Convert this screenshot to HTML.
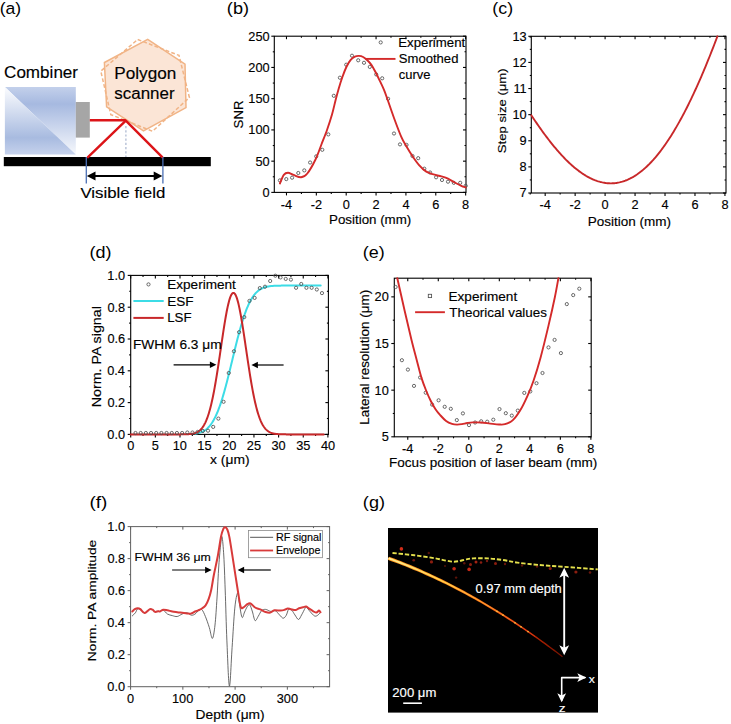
<!DOCTYPE html>
<html><head><meta charset="utf-8"><style>
html,body{margin:0;padding:0;background:#fff;overflow:hidden;width:731px;height:724px;}
svg{display:block;font-family:"Liberation Sans", sans-serif;}
text{stroke:currentColor;stroke-width:0.15px;}
</style></head><body>
<svg width="731" height="724" viewBox="0 0 731 724">
<rect width="731" height="724" fill="#fff"/>
<text x="-0.30" y="13.92" font-size="17.2" fill="#000" color="#000" textLength="21.44" lengthAdjust="spacingAndGlyphs" style="stroke-width:0">(a)</text>
<defs>
<linearGradient id="gU" x1="0" y1="0" x2="0" y2="1"><stop offset="0" stop-color="#c3d0eb"/><stop offset="0.25" stop-color="#a6b9e0"/><stop offset="1" stop-color="#f6f8fc"/></linearGradient>
<linearGradient id="gL" x1="0" y1="0" x2="0" y2="1"><stop offset="0" stop-color="#fbfcfe"/><stop offset="0.75" stop-color="#a8bbe0"/><stop offset="1" stop-color="#c6d2ec"/></linearGradient>
</defs>
<polygon points="4.9,87.1 75.8,87.1 75.8,154.6" fill="url(#gU)"/>
<polygon points="4.9,87.1 4.9,154.6 75.8,154.6" fill="url(#gL)"/>
<rect x="75.8" y="102" width="14" height="35.6" fill="#a6a6a6"/>
<polygon points="147.70,39.30 185.00,64.20 186.00,107.60 143.50,130.90 106.60,106.90 104.40,62.50" fill="#fbe5d6" stroke="#f1b486" stroke-width="1.5"/>
<polygon points="137.70,39.50 179.00,55.40 189.40,97.50 152.50,131.30 110.80,114.60 100.80,71.10" fill="none" stroke="#f1b486" stroke-width="1.5" stroke-dasharray="3.8 2.2"/>
<text x="114.28" y="79.40" font-size="16.2" fill="#000" color="#000" textLength="62.01" lengthAdjust="spacingAndGlyphs">Polygon</text>
<text x="114.33" y="99.30" font-size="16.0" fill="#000" color="#000" textLength="60.22" lengthAdjust="spacingAndGlyphs">scanner</text>
<text x="4.05" y="77.60" font-size="16.5" fill="#000" color="#000" textLength="74.01" lengthAdjust="spacingAndGlyphs">Combiner</text>
<rect x="3.8" y="157" width="207" height="9.2" fill="#000"/>
<line x1="89.80" y1="120.20" x2="125.80" y2="120.20" stroke="#dc1418" stroke-width="2.4"/>
<polyline points="88.00,157.20 125.80,120.60 162.20,157.20" fill="none" stroke="#dc1418" stroke-width="2.4" stroke-linejoin="round" stroke-linecap="round" stroke-linecap="butt"/>
<line x1="125.90" y1="126.00" x2="125.90" y2="157.00" stroke="#a9b6cf" stroke-width="1.2" stroke-dasharray="2.2 2"/>
<line x1="86.30" y1="157.00" x2="86.30" y2="183.40" stroke="#4a6fb5" stroke-width="1.3"/>
<line x1="162.90" y1="157.00" x2="162.90" y2="183.40" stroke="#4a6fb5" stroke-width="1.3"/>
<line x1="93.00" y1="176.00" x2="156.00" y2="176.00" stroke="#000" stroke-width="2"/>
<polygon points="86.8,176 95.5,171.6 95.5,180.4" fill="#000"/>
<polygon points="162.4,176 153.7,171.6 153.7,180.4" fill="#000"/>
<text x="80.42" y="197.70" font-size="15.4" fill="#000" color="#000" textLength="84.94" lengthAdjust="spacingAndGlyphs">Visible field</text>
<text x="226.87" y="13.92" font-size="17.2" fill="#000" color="#000" textLength="22.11" lengthAdjust="spacingAndGlyphs" style="stroke-width:0">(b)</text>
<rect x="274.3" y="36.2" width="191.70" height="156.20" fill="none" stroke="#000" stroke-width="1.1"/>
<line x1="286.48" y1="192.40" x2="286.48" y2="195.40" stroke="#000" stroke-width="1.1"/>
<line x1="286.48" y1="36.20" x2="286.48" y2="39.20" stroke="#000" stroke-width="1.1"/>
<line x1="316.34" y1="192.40" x2="316.34" y2="195.40" stroke="#000" stroke-width="1.1"/>
<line x1="316.34" y1="36.20" x2="316.34" y2="39.20" stroke="#000" stroke-width="1.1"/>
<line x1="346.20" y1="192.40" x2="346.20" y2="195.40" stroke="#000" stroke-width="1.1"/>
<line x1="346.20" y1="36.20" x2="346.20" y2="39.20" stroke="#000" stroke-width="1.1"/>
<line x1="376.06" y1="192.40" x2="376.06" y2="195.40" stroke="#000" stroke-width="1.1"/>
<line x1="376.06" y1="36.20" x2="376.06" y2="39.20" stroke="#000" stroke-width="1.1"/>
<line x1="405.92" y1="192.40" x2="405.92" y2="195.40" stroke="#000" stroke-width="1.1"/>
<line x1="405.92" y1="36.20" x2="405.92" y2="39.20" stroke="#000" stroke-width="1.1"/>
<line x1="435.78" y1="192.40" x2="435.78" y2="195.40" stroke="#000" stroke-width="1.1"/>
<line x1="435.78" y1="36.20" x2="435.78" y2="39.20" stroke="#000" stroke-width="1.1"/>
<line x1="465.64" y1="192.40" x2="465.64" y2="195.40" stroke="#000" stroke-width="1.1"/>
<line x1="465.64" y1="36.20" x2="465.64" y2="39.20" stroke="#000" stroke-width="1.1"/>
<line x1="301.41" y1="192.40" x2="301.41" y2="193.90" stroke="#000" stroke-width="1.1"/>
<line x1="301.41" y1="36.20" x2="301.41" y2="37.70" stroke="#000" stroke-width="1.1"/>
<line x1="331.27" y1="192.40" x2="331.27" y2="193.90" stroke="#000" stroke-width="1.1"/>
<line x1="331.27" y1="36.20" x2="331.27" y2="37.70" stroke="#000" stroke-width="1.1"/>
<line x1="361.13" y1="192.40" x2="361.13" y2="193.90" stroke="#000" stroke-width="1.1"/>
<line x1="361.13" y1="36.20" x2="361.13" y2="37.70" stroke="#000" stroke-width="1.1"/>
<line x1="390.99" y1="192.40" x2="390.99" y2="193.90" stroke="#000" stroke-width="1.1"/>
<line x1="390.99" y1="36.20" x2="390.99" y2="37.70" stroke="#000" stroke-width="1.1"/>
<line x1="420.85" y1="192.40" x2="420.85" y2="193.90" stroke="#000" stroke-width="1.1"/>
<line x1="420.85" y1="36.20" x2="420.85" y2="37.70" stroke="#000" stroke-width="1.1"/>
<line x1="450.71" y1="192.40" x2="450.71" y2="193.90" stroke="#000" stroke-width="1.1"/>
<line x1="450.71" y1="36.20" x2="450.71" y2="37.70" stroke="#000" stroke-width="1.1"/>
<line x1="271.30" y1="192.40" x2="274.30" y2="192.40" stroke="#000" stroke-width="1.1"/>
<line x1="463.00" y1="192.40" x2="466.00" y2="192.40" stroke="#000" stroke-width="1.1"/>
<line x1="271.30" y1="161.16" x2="274.30" y2="161.16" stroke="#000" stroke-width="1.1"/>
<line x1="463.00" y1="161.16" x2="466.00" y2="161.16" stroke="#000" stroke-width="1.1"/>
<line x1="271.30" y1="129.92" x2="274.30" y2="129.92" stroke="#000" stroke-width="1.1"/>
<line x1="463.00" y1="129.92" x2="466.00" y2="129.92" stroke="#000" stroke-width="1.1"/>
<line x1="271.30" y1="98.68" x2="274.30" y2="98.68" stroke="#000" stroke-width="1.1"/>
<line x1="463.00" y1="98.68" x2="466.00" y2="98.68" stroke="#000" stroke-width="1.1"/>
<line x1="271.30" y1="67.44" x2="274.30" y2="67.44" stroke="#000" stroke-width="1.1"/>
<line x1="463.00" y1="67.44" x2="466.00" y2="67.44" stroke="#000" stroke-width="1.1"/>
<line x1="271.30" y1="36.20" x2="274.30" y2="36.20" stroke="#000" stroke-width="1.1"/>
<line x1="463.00" y1="36.20" x2="466.00" y2="36.20" stroke="#000" stroke-width="1.1"/>
<line x1="272.80" y1="176.78" x2="274.30" y2="176.78" stroke="#000" stroke-width="1.1"/>
<line x1="464.50" y1="176.78" x2="466.00" y2="176.78" stroke="#000" stroke-width="1.1"/>
<line x1="272.80" y1="145.54" x2="274.30" y2="145.54" stroke="#000" stroke-width="1.1"/>
<line x1="464.50" y1="145.54" x2="466.00" y2="145.54" stroke="#000" stroke-width="1.1"/>
<line x1="272.80" y1="114.30" x2="274.30" y2="114.30" stroke="#000" stroke-width="1.1"/>
<line x1="464.50" y1="114.30" x2="466.00" y2="114.30" stroke="#000" stroke-width="1.1"/>
<line x1="272.80" y1="83.06" x2="274.30" y2="83.06" stroke="#000" stroke-width="1.1"/>
<line x1="464.50" y1="83.06" x2="466.00" y2="83.06" stroke="#000" stroke-width="1.1"/>
<line x1="272.80" y1="51.82" x2="274.30" y2="51.82" stroke="#000" stroke-width="1.1"/>
<line x1="464.50" y1="51.82" x2="466.00" y2="51.82" stroke="#000" stroke-width="1.1"/>
<text x="262.49" y="196.80" font-size="13.3" fill="#000" color="#000" textLength="7.10" lengthAdjust="spacingAndGlyphs">0</text>
<text x="255.41" y="165.56" font-size="13.3" fill="#000" color="#000" textLength="14.20" lengthAdjust="spacingAndGlyphs">50</text>
<text x="248.29" y="134.32" font-size="13.3" fill="#000" color="#000" textLength="21.30" lengthAdjust="spacingAndGlyphs">100</text>
<text x="248.29" y="103.08" font-size="13.3" fill="#000" color="#000" textLength="21.30" lengthAdjust="spacingAndGlyphs">150</text>
<text x="248.29" y="71.84" font-size="13.3" fill="#000" color="#000" textLength="21.30" lengthAdjust="spacingAndGlyphs">200</text>
<text x="248.29" y="40.60" font-size="13.3" fill="#000" color="#000" textLength="21.30" lengthAdjust="spacingAndGlyphs">250</text>
<text x="280.70" y="208.50" font-size="13.3" fill="#000" color="#000" textLength="11.35" lengthAdjust="spacingAndGlyphs">-4</text>
<text x="310.69" y="208.50" font-size="13.3" fill="#000" color="#000" textLength="11.35" lengthAdjust="spacingAndGlyphs">-2</text>
<text x="342.66" y="208.50" font-size="13.3" fill="#000" color="#000" textLength="7.10" lengthAdjust="spacingAndGlyphs">0</text>
<text x="372.50" y="208.50" font-size="13.3" fill="#000" color="#000" textLength="7.10" lengthAdjust="spacingAndGlyphs">2</text>
<text x="402.41" y="208.50" font-size="13.3" fill="#000" color="#000" textLength="7.10" lengthAdjust="spacingAndGlyphs">4</text>
<text x="432.19" y="208.50" font-size="13.3" fill="#000" color="#000" textLength="7.10" lengthAdjust="spacingAndGlyphs">6</text>
<text x="462.10" y="208.50" font-size="13.3" fill="#000" color="#000" textLength="7.10" lengthAdjust="spacingAndGlyphs">8</text>
<text x="0" y="0" font-size="13.2" fill="#000" color="#000" textLength="27.80" lengthAdjust="spacingAndGlyphs" transform="translate(243.30 128.39) scale(1.0 1) rotate(-90)">SNR</text>
<text x="329.00" y="223.80" font-size="12.6" fill="#000" color="#000" textLength="82.30" lengthAdjust="spacingAndGlyphs">Position (mm)</text>
<circle cx="279.90" cy="180.40" r="1.6" fill="none" stroke="#505050" stroke-width="0.85"/>
<circle cx="286.30" cy="179.10" r="1.6" fill="none" stroke="#505050" stroke-width="0.85"/>
<circle cx="292.10" cy="177.70" r="1.6" fill="none" stroke="#505050" stroke-width="0.85"/>
<circle cx="298.30" cy="173.00" r="1.6" fill="none" stroke="#505050" stroke-width="0.85"/>
<circle cx="304.30" cy="170.40" r="1.6" fill="none" stroke="#505050" stroke-width="0.85"/>
<circle cx="310.10" cy="162.50" r="1.6" fill="none" stroke="#505050" stroke-width="0.85"/>
<circle cx="316.20" cy="156.40" r="1.6" fill="none" stroke="#505050" stroke-width="0.85"/>
<circle cx="322.30" cy="149.80" r="1.6" fill="none" stroke="#505050" stroke-width="0.85"/>
<circle cx="328.30" cy="134.40" r="1.6" fill="none" stroke="#505050" stroke-width="0.85"/>
<circle cx="333.80" cy="95.80" r="1.6" fill="none" stroke="#505050" stroke-width="0.85"/>
<circle cx="339.90" cy="77.70" r="1.6" fill="none" stroke="#505050" stroke-width="0.85"/>
<circle cx="346.20" cy="64.70" r="1.6" fill="none" stroke="#505050" stroke-width="0.85"/>
<circle cx="352.00" cy="55.70" r="1.6" fill="none" stroke="#505050" stroke-width="0.85"/>
<circle cx="358.20" cy="60.30" r="1.6" fill="none" stroke="#505050" stroke-width="0.85"/>
<circle cx="364.00" cy="62.80" r="1.6" fill="none" stroke="#505050" stroke-width="0.85"/>
<circle cx="369.80" cy="66.90" r="1.6" fill="none" stroke="#505050" stroke-width="0.85"/>
<circle cx="376.20" cy="74.40" r="1.6" fill="none" stroke="#505050" stroke-width="0.85"/>
<circle cx="382.20" cy="78.30" r="1.6" fill="none" stroke="#505050" stroke-width="0.85"/>
<circle cx="388.10" cy="98.80" r="1.6" fill="none" stroke="#505050" stroke-width="0.85"/>
<circle cx="394.00" cy="133.50" r="1.6" fill="none" stroke="#505050" stroke-width="0.85"/>
<circle cx="400.00" cy="144.40" r="1.6" fill="none" stroke="#505050" stroke-width="0.85"/>
<circle cx="406.50" cy="144.90" r="1.6" fill="none" stroke="#505050" stroke-width="0.85"/>
<circle cx="412.50" cy="156.00" r="1.6" fill="none" stroke="#505050" stroke-width="0.85"/>
<circle cx="418.20" cy="158.20" r="1.6" fill="none" stroke="#505050" stroke-width="0.85"/>
<circle cx="424.30" cy="168.70" r="1.6" fill="none" stroke="#505050" stroke-width="0.85"/>
<circle cx="430.10" cy="172.50" r="1.6" fill="none" stroke="#505050" stroke-width="0.85"/>
<circle cx="436.10" cy="177.30" r="1.6" fill="none" stroke="#505050" stroke-width="0.85"/>
<circle cx="442.00" cy="180.00" r="1.6" fill="none" stroke="#505050" stroke-width="0.85"/>
<circle cx="448.00" cy="181.70" r="1.6" fill="none" stroke="#505050" stroke-width="0.85"/>
<circle cx="453.80" cy="182.80" r="1.6" fill="none" stroke="#505050" stroke-width="0.85"/>
<circle cx="460.20" cy="182.80" r="1.6" fill="none" stroke="#505050" stroke-width="0.85"/>
<circle cx="465.70" cy="185.80" r="1.6" fill="none" stroke="#505050" stroke-width="0.85"/>
<path d="M279.90,183.50 C280.55,182.07 282.45,176.68 283.80,174.90 C285.15,173.12 286.38,172.80 288.00,172.80 C289.62,172.80 291.32,174.15 293.50,174.90 C295.68,175.65 298.80,177.53 301.10,177.30 C303.40,177.07 304.90,176.47 307.30,173.50 C309.70,170.53 313.12,164.42 315.50,159.50 C317.88,154.58 319.67,148.97 321.60,144.00 C323.53,139.03 325.37,134.62 327.10,129.70 C328.83,124.78 330.60,119.37 332.00,114.50 C333.40,109.63 334.40,104.75 335.50,100.50 C336.60,96.25 337.45,92.92 338.60,89.00 C339.75,85.08 341.07,80.75 342.40,77.00 C343.73,73.25 345.22,69.35 346.60,66.50 C347.98,63.65 349.32,61.55 350.70,59.90 C352.08,58.25 353.52,57.27 354.90,56.60 C356.28,55.93 357.63,55.83 359.00,55.90 C360.37,55.97 361.72,56.27 363.10,57.00 C364.48,57.73 365.92,58.98 367.30,60.30 C368.68,61.62 370.02,62.90 371.40,64.90 C372.78,66.90 374.22,69.68 375.60,72.30 C376.98,74.92 378.32,77.70 379.70,80.60 C381.08,83.50 382.65,86.72 383.90,89.70 C385.15,92.68 385.52,93.78 387.20,98.50 C388.88,103.22 391.65,111.60 394.00,118.00 C396.35,124.40 399.22,132.15 401.30,136.90 C403.38,141.65 404.60,143.23 406.50,146.50 C408.40,149.77 410.57,153.35 412.70,156.50 C414.83,159.65 417.10,162.92 419.30,165.40 C421.50,167.88 423.68,169.93 425.90,171.40 C428.12,172.87 430.02,173.37 432.60,174.20 C435.18,175.03 438.83,175.67 441.40,176.40 C443.97,177.13 445.78,177.58 448.00,178.60 C450.22,179.62 452.48,181.30 454.70,182.50 C456.92,183.70 459.47,184.97 461.30,185.80 C463.13,186.63 464.97,187.22 465.70,187.50" fill="none" stroke="#d42a2a" stroke-width="1.9" stroke-linejoin="round" stroke-linecap="round"/>
<circle cx="380.70" cy="42.40" r="1.6" fill="none" stroke="#505050" stroke-width="0.85"/>
<text x="398.31" y="47.00" font-size="12.6" fill="#000" color="#000" textLength="66.89" lengthAdjust="spacingAndGlyphs">Experiment</text>
<line x1="365.50" y1="58.90" x2="395.50" y2="58.90" stroke="#d42a2a" stroke-width="1.9"/>
<text x="398.81" y="62.80" font-size="12.6" fill="#000" color="#000" textLength="59.62" lengthAdjust="spacingAndGlyphs">Smoothed</text>
<text x="398.75" y="79.10" font-size="12.6" fill="#000" color="#000" textLength="31.71" lengthAdjust="spacingAndGlyphs">curve</text>
<text x="492.39" y="13.92" font-size="17.2" fill="#000" color="#000" textLength="20.69" lengthAdjust="spacingAndGlyphs" style="stroke-width:0">(c)</text>
<rect x="531.3" y="36.3" width="194.70" height="156.70" fill="none" stroke="#000" stroke-width="1.1"/>
<line x1="545.18" y1="193.00" x2="545.18" y2="196.00" stroke="#000" stroke-width="1.1"/>
<line x1="545.18" y1="36.30" x2="545.18" y2="39.30" stroke="#000" stroke-width="1.1"/>
<line x1="575.14" y1="193.00" x2="575.14" y2="196.00" stroke="#000" stroke-width="1.1"/>
<line x1="575.14" y1="36.30" x2="575.14" y2="39.30" stroke="#000" stroke-width="1.1"/>
<line x1="605.10" y1="193.00" x2="605.10" y2="196.00" stroke="#000" stroke-width="1.1"/>
<line x1="605.10" y1="36.30" x2="605.10" y2="39.30" stroke="#000" stroke-width="1.1"/>
<line x1="635.06" y1="193.00" x2="635.06" y2="196.00" stroke="#000" stroke-width="1.1"/>
<line x1="635.06" y1="36.30" x2="635.06" y2="39.30" stroke="#000" stroke-width="1.1"/>
<line x1="665.02" y1="193.00" x2="665.02" y2="196.00" stroke="#000" stroke-width="1.1"/>
<line x1="665.02" y1="36.30" x2="665.02" y2="39.30" stroke="#000" stroke-width="1.1"/>
<line x1="694.98" y1="193.00" x2="694.98" y2="196.00" stroke="#000" stroke-width="1.1"/>
<line x1="694.98" y1="36.30" x2="694.98" y2="39.30" stroke="#000" stroke-width="1.1"/>
<line x1="724.94" y1="193.00" x2="724.94" y2="196.00" stroke="#000" stroke-width="1.1"/>
<line x1="724.94" y1="36.30" x2="724.94" y2="39.30" stroke="#000" stroke-width="1.1"/>
<line x1="530.20" y1="193.00" x2="530.20" y2="194.50" stroke="#000" stroke-width="1.1"/>
<line x1="530.20" y1="36.30" x2="530.20" y2="37.80" stroke="#000" stroke-width="1.1"/>
<line x1="560.16" y1="193.00" x2="560.16" y2="194.50" stroke="#000" stroke-width="1.1"/>
<line x1="560.16" y1="36.30" x2="560.16" y2="37.80" stroke="#000" stroke-width="1.1"/>
<line x1="590.12" y1="193.00" x2="590.12" y2="194.50" stroke="#000" stroke-width="1.1"/>
<line x1="590.12" y1="36.30" x2="590.12" y2="37.80" stroke="#000" stroke-width="1.1"/>
<line x1="620.08" y1="193.00" x2="620.08" y2="194.50" stroke="#000" stroke-width="1.1"/>
<line x1="620.08" y1="36.30" x2="620.08" y2="37.80" stroke="#000" stroke-width="1.1"/>
<line x1="650.04" y1="193.00" x2="650.04" y2="194.50" stroke="#000" stroke-width="1.1"/>
<line x1="650.04" y1="36.30" x2="650.04" y2="37.80" stroke="#000" stroke-width="1.1"/>
<line x1="680.00" y1="193.00" x2="680.00" y2="194.50" stroke="#000" stroke-width="1.1"/>
<line x1="680.00" y1="36.30" x2="680.00" y2="37.80" stroke="#000" stroke-width="1.1"/>
<line x1="709.96" y1="193.00" x2="709.96" y2="194.50" stroke="#000" stroke-width="1.1"/>
<line x1="709.96" y1="36.30" x2="709.96" y2="37.80" stroke="#000" stroke-width="1.1"/>
<line x1="528.30" y1="193.00" x2="531.30" y2="193.00" stroke="#000" stroke-width="1.1"/>
<line x1="723.00" y1="193.00" x2="726.00" y2="193.00" stroke="#000" stroke-width="1.1"/>
<line x1="528.30" y1="166.88" x2="531.30" y2="166.88" stroke="#000" stroke-width="1.1"/>
<line x1="723.00" y1="166.88" x2="726.00" y2="166.88" stroke="#000" stroke-width="1.1"/>
<line x1="528.30" y1="140.77" x2="531.30" y2="140.77" stroke="#000" stroke-width="1.1"/>
<line x1="723.00" y1="140.77" x2="726.00" y2="140.77" stroke="#000" stroke-width="1.1"/>
<line x1="528.30" y1="114.65" x2="531.30" y2="114.65" stroke="#000" stroke-width="1.1"/>
<line x1="723.00" y1="114.65" x2="726.00" y2="114.65" stroke="#000" stroke-width="1.1"/>
<line x1="528.30" y1="88.53" x2="531.30" y2="88.53" stroke="#000" stroke-width="1.1"/>
<line x1="723.00" y1="88.53" x2="726.00" y2="88.53" stroke="#000" stroke-width="1.1"/>
<line x1="528.30" y1="62.42" x2="531.30" y2="62.42" stroke="#000" stroke-width="1.1"/>
<line x1="723.00" y1="62.42" x2="726.00" y2="62.42" stroke="#000" stroke-width="1.1"/>
<line x1="528.30" y1="36.30" x2="531.30" y2="36.30" stroke="#000" stroke-width="1.1"/>
<line x1="723.00" y1="36.30" x2="726.00" y2="36.30" stroke="#000" stroke-width="1.1"/>
<line x1="529.80" y1="179.94" x2="531.30" y2="179.94" stroke="#000" stroke-width="1.1"/>
<line x1="724.50" y1="179.94" x2="726.00" y2="179.94" stroke="#000" stroke-width="1.1"/>
<line x1="529.80" y1="153.82" x2="531.30" y2="153.82" stroke="#000" stroke-width="1.1"/>
<line x1="724.50" y1="153.82" x2="726.00" y2="153.82" stroke="#000" stroke-width="1.1"/>
<line x1="529.80" y1="127.71" x2="531.30" y2="127.71" stroke="#000" stroke-width="1.1"/>
<line x1="724.50" y1="127.71" x2="726.00" y2="127.71" stroke="#000" stroke-width="1.1"/>
<line x1="529.80" y1="101.59" x2="531.30" y2="101.59" stroke="#000" stroke-width="1.1"/>
<line x1="724.50" y1="101.59" x2="726.00" y2="101.59" stroke="#000" stroke-width="1.1"/>
<line x1="529.80" y1="75.47" x2="531.30" y2="75.47" stroke="#000" stroke-width="1.1"/>
<line x1="724.50" y1="75.47" x2="726.00" y2="75.47" stroke="#000" stroke-width="1.1"/>
<line x1="529.80" y1="49.36" x2="531.30" y2="49.36" stroke="#000" stroke-width="1.1"/>
<line x1="724.50" y1="49.36" x2="726.00" y2="49.36" stroke="#000" stroke-width="1.1"/>
<text x="519.62" y="197.40" font-size="13.3" fill="#000" color="#000" textLength="7.10" lengthAdjust="spacingAndGlyphs">7</text>
<text x="519.56" y="171.28" font-size="13.3" fill="#000" color="#000" textLength="7.10" lengthAdjust="spacingAndGlyphs">8</text>
<text x="519.59" y="145.17" font-size="13.3" fill="#000" color="#000" textLength="7.10" lengthAdjust="spacingAndGlyphs">9</text>
<text x="512.41" y="119.05" font-size="13.3" fill="#000" color="#000" textLength="14.20" lengthAdjust="spacingAndGlyphs">10</text>
<text x="513.46" y="92.93" font-size="13.3" fill="#000" color="#000" textLength="13.25" lengthAdjust="spacingAndGlyphs">11</text>
<text x="512.53" y="66.82" font-size="13.3" fill="#000" color="#000" textLength="14.20" lengthAdjust="spacingAndGlyphs">12</text>
<text x="512.47" y="40.70" font-size="13.3" fill="#000" color="#000" textLength="14.20" lengthAdjust="spacingAndGlyphs">13</text>
<text x="539.40" y="209.30" font-size="13.3" fill="#000" color="#000" textLength="11.35" lengthAdjust="spacingAndGlyphs">-4</text>
<text x="569.49" y="209.30" font-size="13.3" fill="#000" color="#000" textLength="11.35" lengthAdjust="spacingAndGlyphs">-2</text>
<text x="601.56" y="209.30" font-size="13.3" fill="#000" color="#000" textLength="7.10" lengthAdjust="spacingAndGlyphs">0</text>
<text x="631.50" y="209.30" font-size="13.3" fill="#000" color="#000" textLength="7.10" lengthAdjust="spacingAndGlyphs">2</text>
<text x="661.51" y="209.30" font-size="13.3" fill="#000" color="#000" textLength="7.10" lengthAdjust="spacingAndGlyphs">4</text>
<text x="691.39" y="209.30" font-size="13.3" fill="#000" color="#000" textLength="7.10" lengthAdjust="spacingAndGlyphs">6</text>
<text x="721.40" y="209.30" font-size="13.3" fill="#000" color="#000" textLength="7.10" lengthAdjust="spacingAndGlyphs">8</text>
<text x="0" y="0" font-size="11.8" fill="#000" color="#000" textLength="84.90" lengthAdjust="spacingAndGlyphs" transform="translate(506.00 153.24) scale(1.0 1) rotate(-90)">Step size (μm)</text>
<text x="587.79" y="225.80" font-size="12.6" fill="#000" color="#000" textLength="83.33" lengthAdjust="spacingAndGlyphs">Position (mm)</text>
<polyline points="531.30,115.24 532.30,116.74 533.30,118.24 534.30,119.73 535.30,121.20 536.30,122.66 537.30,124.12 538.30,125.56 539.30,126.98 540.30,128.40 541.30,129.80 542.30,131.19 543.30,132.57 544.30,133.94 545.30,135.29 546.30,136.62 547.30,137.94 548.30,139.25 549.30,140.54 550.30,141.82 551.30,143.09 552.30,144.33 553.30,145.56 554.30,146.78 555.30,147.98 556.30,149.16 557.30,150.33 558.30,151.48 559.30,152.61 560.30,153.73 561.30,154.83 562.30,155.91 563.30,156.97 564.30,158.01 565.30,159.04 566.30,160.05 567.30,161.04 568.30,162.01 569.30,162.96 570.30,163.89 571.30,164.80 572.30,165.69 573.30,166.56 574.30,167.42 575.30,168.25 576.30,169.06 577.30,169.85 578.30,170.62 579.30,171.37 580.30,172.10 581.30,172.80 582.30,173.49 583.30,174.15 584.30,174.79 585.30,175.41 586.30,176.01 587.30,176.58 588.30,177.13 589.30,177.66 590.30,178.17 591.30,178.65 592.30,179.11 593.30,179.55 594.30,179.97 595.30,180.36 596.30,180.72 597.30,181.07 598.30,181.39 599.30,181.68 600.30,181.96 601.30,182.20 602.30,182.43 603.30,182.63 604.30,182.80 605.30,182.95 606.30,183.08 607.30,183.18 608.30,183.25 609.30,183.30 610.30,183.33 611.30,183.33 612.30,183.30 613.30,183.25 614.30,183.18 615.30,183.08 616.30,182.95 617.30,182.80 618.30,182.62 619.30,182.42 620.30,182.19 621.30,181.93 622.30,181.65 623.30,181.34 624.30,181.01 625.30,180.65 626.30,180.26 627.30,179.85 628.30,179.41 629.30,178.94 630.30,178.45 631.30,177.93 632.30,177.39 633.30,176.82 634.30,176.22 635.30,175.59 636.30,174.94 637.30,174.27 638.30,173.56 639.30,172.83 640.30,172.07 641.30,171.29 642.30,170.48 643.30,169.64 644.30,168.78 645.30,167.89 646.30,166.97 647.30,166.02 648.30,165.05 649.30,164.06 650.30,163.03 651.30,161.98 652.30,160.90 653.30,159.80 654.30,158.67 655.30,157.51 656.30,156.33 657.30,155.12 658.30,153.88 659.30,152.61 660.30,151.32 661.30,150.01 662.30,148.67 663.30,147.30 664.30,145.90 665.30,144.48 666.30,143.03 667.30,141.56 668.30,140.06 669.30,138.54 670.30,136.98 671.30,135.41 672.30,133.80 673.30,132.17 674.30,130.52 675.30,128.84 676.30,127.14 677.30,125.40 678.30,123.65 679.30,121.87 680.30,120.06 681.30,118.23 682.30,116.37 683.30,114.49 684.30,112.59 685.30,110.66 686.30,108.70 687.30,106.72 688.30,104.72 689.30,102.69 690.30,100.64 691.30,98.56 692.30,96.46 693.30,94.34 694.30,92.19 695.30,90.02 696.30,87.83 697.30,85.61 698.30,83.37 699.30,81.10 700.30,78.82 701.30,76.51 702.30,74.18 703.30,71.83 704.30,69.45 705.30,67.05 706.30,64.63 707.30,62.19 708.30,59.73 709.30,57.24 710.30,54.74 711.30,52.21 712.30,49.66 713.30,47.09 714.30,44.51 715.30,41.90 716.30,39.27 717.30,36.62 717.42,36.30" fill="none" stroke="#c8282a" stroke-width="1.9" stroke-linejoin="round" stroke-linecap="round"/>
<text x="89.58" y="258.22" font-size="17.2" fill="#000" color="#000" textLength="22.00" lengthAdjust="spacingAndGlyphs" style="stroke-width:0">(d)</text>
<rect x="130.7" y="275.4" width="197.70" height="159.00" fill="none" stroke="#000" stroke-width="1.1"/>
<line x1="130.70" y1="434.40" x2="130.70" y2="437.40" stroke="#000" stroke-width="1.1"/>
<line x1="130.70" y1="275.40" x2="130.70" y2="278.40" stroke="#000" stroke-width="1.1"/>
<line x1="155.35" y1="434.40" x2="155.35" y2="437.40" stroke="#000" stroke-width="1.1"/>
<line x1="155.35" y1="275.40" x2="155.35" y2="278.40" stroke="#000" stroke-width="1.1"/>
<line x1="180.00" y1="434.40" x2="180.00" y2="437.40" stroke="#000" stroke-width="1.1"/>
<line x1="180.00" y1="275.40" x2="180.00" y2="278.40" stroke="#000" stroke-width="1.1"/>
<line x1="204.65" y1="434.40" x2="204.65" y2="437.40" stroke="#000" stroke-width="1.1"/>
<line x1="204.65" y1="275.40" x2="204.65" y2="278.40" stroke="#000" stroke-width="1.1"/>
<line x1="229.30" y1="434.40" x2="229.30" y2="437.40" stroke="#000" stroke-width="1.1"/>
<line x1="229.30" y1="275.40" x2="229.30" y2="278.40" stroke="#000" stroke-width="1.1"/>
<line x1="253.95" y1="434.40" x2="253.95" y2="437.40" stroke="#000" stroke-width="1.1"/>
<line x1="253.95" y1="275.40" x2="253.95" y2="278.40" stroke="#000" stroke-width="1.1"/>
<line x1="278.60" y1="434.40" x2="278.60" y2="437.40" stroke="#000" stroke-width="1.1"/>
<line x1="278.60" y1="275.40" x2="278.60" y2="278.40" stroke="#000" stroke-width="1.1"/>
<line x1="303.25" y1="434.40" x2="303.25" y2="437.40" stroke="#000" stroke-width="1.1"/>
<line x1="303.25" y1="275.40" x2="303.25" y2="278.40" stroke="#000" stroke-width="1.1"/>
<line x1="327.90" y1="434.40" x2="327.90" y2="437.40" stroke="#000" stroke-width="1.1"/>
<line x1="327.90" y1="275.40" x2="327.90" y2="278.40" stroke="#000" stroke-width="1.1"/>
<line x1="143.02" y1="434.40" x2="143.02" y2="435.90" stroke="#000" stroke-width="1.1"/>
<line x1="143.02" y1="275.40" x2="143.02" y2="276.90" stroke="#000" stroke-width="1.1"/>
<line x1="167.67" y1="434.40" x2="167.67" y2="435.90" stroke="#000" stroke-width="1.1"/>
<line x1="167.67" y1="275.40" x2="167.67" y2="276.90" stroke="#000" stroke-width="1.1"/>
<line x1="192.32" y1="434.40" x2="192.32" y2="435.90" stroke="#000" stroke-width="1.1"/>
<line x1="192.32" y1="275.40" x2="192.32" y2="276.90" stroke="#000" stroke-width="1.1"/>
<line x1="216.97" y1="434.40" x2="216.97" y2="435.90" stroke="#000" stroke-width="1.1"/>
<line x1="216.97" y1="275.40" x2="216.97" y2="276.90" stroke="#000" stroke-width="1.1"/>
<line x1="241.62" y1="434.40" x2="241.62" y2="435.90" stroke="#000" stroke-width="1.1"/>
<line x1="241.62" y1="275.40" x2="241.62" y2="276.90" stroke="#000" stroke-width="1.1"/>
<line x1="266.27" y1="434.40" x2="266.27" y2="435.90" stroke="#000" stroke-width="1.1"/>
<line x1="266.27" y1="275.40" x2="266.27" y2="276.90" stroke="#000" stroke-width="1.1"/>
<line x1="290.92" y1="434.40" x2="290.92" y2="435.90" stroke="#000" stroke-width="1.1"/>
<line x1="290.92" y1="275.40" x2="290.92" y2="276.90" stroke="#000" stroke-width="1.1"/>
<line x1="315.57" y1="434.40" x2="315.57" y2="435.90" stroke="#000" stroke-width="1.1"/>
<line x1="315.57" y1="275.40" x2="315.57" y2="276.90" stroke="#000" stroke-width="1.1"/>
<line x1="127.70" y1="434.40" x2="130.70" y2="434.40" stroke="#000" stroke-width="1.1"/>
<line x1="325.40" y1="434.40" x2="328.40" y2="434.40" stroke="#000" stroke-width="1.1"/>
<line x1="127.70" y1="402.60" x2="130.70" y2="402.60" stroke="#000" stroke-width="1.1"/>
<line x1="325.40" y1="402.60" x2="328.40" y2="402.60" stroke="#000" stroke-width="1.1"/>
<line x1="127.70" y1="370.80" x2="130.70" y2="370.80" stroke="#000" stroke-width="1.1"/>
<line x1="325.40" y1="370.80" x2="328.40" y2="370.80" stroke="#000" stroke-width="1.1"/>
<line x1="127.70" y1="339.00" x2="130.70" y2="339.00" stroke="#000" stroke-width="1.1"/>
<line x1="325.40" y1="339.00" x2="328.40" y2="339.00" stroke="#000" stroke-width="1.1"/>
<line x1="127.70" y1="307.20" x2="130.70" y2="307.20" stroke="#000" stroke-width="1.1"/>
<line x1="325.40" y1="307.20" x2="328.40" y2="307.20" stroke="#000" stroke-width="1.1"/>
<line x1="127.70" y1="275.40" x2="130.70" y2="275.40" stroke="#000" stroke-width="1.1"/>
<line x1="325.40" y1="275.40" x2="328.40" y2="275.40" stroke="#000" stroke-width="1.1"/>
<line x1="129.20" y1="418.50" x2="130.70" y2="418.50" stroke="#000" stroke-width="1.1"/>
<line x1="326.90" y1="418.50" x2="328.40" y2="418.50" stroke="#000" stroke-width="1.1"/>
<line x1="129.20" y1="386.70" x2="130.70" y2="386.70" stroke="#000" stroke-width="1.1"/>
<line x1="326.90" y1="386.70" x2="328.40" y2="386.70" stroke="#000" stroke-width="1.1"/>
<line x1="129.20" y1="354.90" x2="130.70" y2="354.90" stroke="#000" stroke-width="1.1"/>
<line x1="326.90" y1="354.90" x2="328.40" y2="354.90" stroke="#000" stroke-width="1.1"/>
<line x1="129.20" y1="323.10" x2="130.70" y2="323.10" stroke="#000" stroke-width="1.1"/>
<line x1="326.90" y1="323.10" x2="328.40" y2="323.10" stroke="#000" stroke-width="1.1"/>
<line x1="129.20" y1="291.30" x2="130.70" y2="291.30" stroke="#000" stroke-width="1.1"/>
<line x1="326.90" y1="291.30" x2="328.40" y2="291.30" stroke="#000" stroke-width="1.1"/>
<text x="107.33" y="438.80" font-size="13.3" fill="#000" color="#000" textLength="17.75" lengthAdjust="spacingAndGlyphs">0.0</text>
<text x="107.46" y="407.00" font-size="13.3" fill="#000" color="#000" textLength="17.75" lengthAdjust="spacingAndGlyphs">0.2</text>
<text x="107.20" y="375.20" font-size="13.3" fill="#000" color="#000" textLength="17.75" lengthAdjust="spacingAndGlyphs">0.4</text>
<text x="107.40" y="343.40" font-size="13.3" fill="#000" color="#000" textLength="17.75" lengthAdjust="spacingAndGlyphs">0.6</text>
<text x="107.40" y="311.60" font-size="13.3" fill="#000" color="#000" textLength="17.75" lengthAdjust="spacingAndGlyphs">0.8</text>
<text x="107.33" y="279.80" font-size="13.3" fill="#000" color="#000" textLength="17.75" lengthAdjust="spacingAndGlyphs">1.0</text>
<text x="127.16" y="450.30" font-size="13.3" fill="#000" color="#000" textLength="7.10" lengthAdjust="spacingAndGlyphs">0</text>
<text x="151.81" y="450.30" font-size="13.3" fill="#000" color="#000" textLength="7.10" lengthAdjust="spacingAndGlyphs">5</text>
<text x="172.67" y="450.30" font-size="13.3" fill="#000" color="#000" textLength="14.20" lengthAdjust="spacingAndGlyphs">10</text>
<text x="197.34" y="450.30" font-size="13.3" fill="#000" color="#000" textLength="14.20" lengthAdjust="spacingAndGlyphs">15</text>
<text x="222.13" y="450.30" font-size="13.3" fill="#000" color="#000" textLength="14.20" lengthAdjust="spacingAndGlyphs">20</text>
<text x="246.80" y="450.30" font-size="13.3" fill="#000" color="#000" textLength="14.20" lengthAdjust="spacingAndGlyphs">25</text>
<text x="271.51" y="450.30" font-size="13.3" fill="#000" color="#000" textLength="14.20" lengthAdjust="spacingAndGlyphs">30</text>
<text x="296.18" y="450.30" font-size="13.3" fill="#000" color="#000" textLength="14.20" lengthAdjust="spacingAndGlyphs">35</text>
<text x="320.91" y="450.30" font-size="13.3" fill="#000" color="#000" textLength="14.20" lengthAdjust="spacingAndGlyphs">40</text>
<text x="0" y="0" font-size="12.0" fill="#000" color="#000" textLength="101.14" lengthAdjust="spacingAndGlyphs" transform="translate(101.30 407.28) scale(1.0 1) rotate(-90)">Norm. PA signal</text>
<text x="210.08" y="463.80" font-size="13" fill="#000" color="#000" textLength="39.51" lengthAdjust="spacingAndGlyphs">x (μm)</text>
<polyline points="195.20,433.69 195.70,433.62 196.20,433.54 196.70,433.45 197.20,433.35 197.70,433.24 198.20,433.13 198.70,433.00 199.20,432.86 199.70,432.72 200.20,432.56 200.70,432.38 201.20,432.19 201.70,431.99 202.20,431.77 202.70,431.54 203.20,431.29 203.70,431.01 204.20,430.72 204.70,430.41 205.20,430.08 205.70,429.72 206.20,429.34 206.70,428.94 207.20,428.51 207.70,428.05 208.20,427.56 208.70,427.04 209.20,426.50 209.70,425.92 210.20,425.30 210.70,424.66 211.20,423.98 211.70,423.26 212.20,422.51 212.70,421.71 213.20,420.88 213.70,420.01 214.20,419.10 214.70,418.15 215.20,417.15 215.70,416.12 216.20,415.04 216.70,413.91 217.20,412.75 217.70,411.54 218.20,410.28 218.70,408.98 219.20,407.64 219.70,406.25 220.20,404.82 220.70,403.35 221.20,401.84 221.70,400.28 222.20,398.68 222.70,397.04 223.20,395.37 223.70,393.65 224.20,391.90 224.70,390.12 225.20,388.30 225.70,386.45 226.20,384.57 226.70,382.66 227.20,380.72 227.70,378.76 228.20,376.78 228.70,374.78 229.20,372.76 229.70,370.72 230.20,368.68 230.70,366.62 231.20,364.55 231.70,362.48 232.20,360.40 232.70,358.33 233.20,356.25 233.70,354.18 234.20,352.12 234.70,350.07 235.20,348.03 235.70,346.00 236.20,343.99 236.70,342.00 237.20,340.03 237.70,338.09 238.20,336.17 238.70,334.28 239.20,332.41 239.70,330.58 240.20,328.78 240.70,327.02 241.20,325.29 241.70,323.60 242.20,321.94 242.70,320.33 243.20,318.76 243.70,317.23 244.20,315.74 244.70,314.29 245.20,312.89 245.70,311.53 246.20,310.21 246.70,308.94 247.20,307.71 247.70,306.52 248.20,305.38 248.70,304.29 249.20,303.23 249.70,302.22 250.20,301.25 250.70,300.32 251.20,299.44 251.70,298.59 252.20,297.78 252.70,297.01 253.20,296.28 253.70,295.59 254.20,294.93 254.70,294.30 255.20,293.71 255.70,293.15 256.20,292.62 256.70,292.12 257.20,291.65 257.70,291.21 258.20,290.79 258.70,290.40 259.20,290.04 259.70,289.70 260.20,289.37 260.70,289.08 261.20,288.80 261.70,288.54 262.20,288.29 262.70,288.07 263.20,287.86 263.70,287.67 264.20,287.49 264.70,287.32 265.20,287.17 265.70,287.03 266.20,286.90 266.70,286.78 267.20,286.67 267.70,286.57 268.20,286.47 268.70,286.39 269.20,286.31 269.70,286.24 270.20,286.17 270.70,286.12 271.20,286.06 271.70,286.01 272.20,285.97 272.70,285.93 273.20,285.89 273.70,285.86 274.20,285.83 274.70,285.80 275.20,285.78 275.70,285.76 276.20,285.74 276.70,285.72 277.20,285.70 277.70,285.69 278.20,285.67 278.70,285.66 279.20,285.65 279.70,285.64 280.20,285.64 280.70,285.63 281.20,285.62 281.70,285.62 282.20,285.61 282.70,285.61 283.20,285.60 283.70,285.60 284.20,285.60 284.70,285.59 285.20,285.59 285.70,285.59 286.20,285.59 286.70,285.59 287.20,285.59 287.70,285.58 288.20,285.58 288.70,285.58 289.20,285.58 289.70,285.58 290.20,285.58 290.70,285.58 291.20,285.58 291.70,285.58 292.20,285.58 292.70,285.58 293.20,285.58 293.70,285.58 294.20,285.58 294.70,285.58 295.20,285.58 295.70,285.58 296.20,285.58 296.70,285.58 297.20,285.58 297.70,285.58 298.20,285.58 298.70,285.58 299.20,285.58 299.70,285.58 300.20,285.58 300.70,285.58 301.20,285.58 301.70,285.58 302.20,285.58 302.70,285.58 303.20,285.58 303.70,285.58 304.20,285.58 304.70,285.58 305.20,285.58 305.70,285.58 306.20,285.58 306.70,285.58 307.20,285.58 307.70,285.58 308.20,285.58 308.70,285.58 309.20,285.58 309.70,285.58 310.20,285.58 310.70,285.58 311.20,285.58 311.70,285.58 312.20,285.58 312.70,285.58 313.20,285.58 313.70,285.58 314.20,285.58 314.70,285.58 315.20,285.58 315.70,285.58 316.20,285.58 316.70,285.58 317.20,285.58 317.70,285.58 318.20,285.58 318.70,285.58 319.20,285.58 319.70,285.58 320.20,285.58 320.70,285.58" fill="none" stroke="#3cdce6" stroke-width="2.0" stroke-linejoin="round" stroke-linecap="round"/>
<polyline points="130.70,434.40 131.20,434.40 131.70,434.40 132.20,434.40 132.70,434.40 133.20,434.40 133.70,434.40 134.20,434.40 134.70,434.40 135.20,434.40 135.70,434.40 136.20,434.40 136.70,434.40 137.20,434.40 137.70,434.40 138.20,434.40 138.70,434.40 139.20,434.40 139.70,434.40 140.20,434.40 140.70,434.40 141.20,434.40 141.70,434.40 142.20,434.40 142.70,434.40 143.20,434.40 143.70,434.40 144.20,434.40 144.70,434.40 145.20,434.40 145.70,434.40 146.20,434.40 146.70,434.40 147.20,434.40 147.70,434.40 148.20,434.40 148.70,434.40 149.20,434.40 149.70,434.40 150.20,434.40 150.70,434.40 151.20,434.40 151.70,434.40 152.20,434.40 152.70,434.40 153.20,434.40 153.70,434.40 154.20,434.40 154.70,434.40 155.20,434.40 155.70,434.40 156.20,434.40 156.70,434.40 157.20,434.40 157.70,434.40 158.20,434.40 158.70,434.40 159.20,434.40 159.70,434.40 160.20,434.40 160.70,434.40 161.20,434.40 161.70,434.40 162.20,434.40 162.70,434.40 163.20,434.40 163.70,434.40 164.20,434.40 164.70,434.40 165.20,434.40 165.70,434.40 166.20,434.40 166.70,434.40 167.20,434.40 167.70,434.40 168.20,434.40 168.70,434.40 169.20,434.40 169.70,434.40 170.20,434.40 170.70,434.40 171.20,434.40 171.70,434.40 172.20,434.40 172.70,434.40 173.20,434.40 173.70,434.40 174.20,434.40 174.70,434.40 175.20,434.40 175.70,434.40 176.20,434.40 176.70,434.39 177.20,434.39 177.70,434.39 178.20,434.39 178.70,434.39 179.20,434.39 179.70,434.38 180.20,434.38 180.70,434.38 181.20,434.37 181.70,434.37 182.20,434.36 182.70,434.36 183.20,434.35 183.70,434.34 184.20,434.33 184.70,434.32 185.20,434.31 185.70,434.29 186.20,434.27 186.70,434.25 187.20,434.23 187.70,434.20 188.20,434.17 188.70,434.14 189.20,434.10 189.70,434.05 190.20,434.00 190.70,433.95 191.20,433.88 191.70,433.81 192.20,433.73 192.70,433.63 193.20,433.53 193.70,433.41 194.20,433.28 194.70,433.13 195.20,432.97 195.70,432.79 196.20,432.59 196.70,432.37 197.20,432.12 197.70,431.84 198.20,431.54 198.70,431.21 199.20,430.84 199.70,430.44 200.20,430.00 200.70,429.52 201.20,429.00 201.70,428.43 202.20,427.80 202.70,427.13 203.20,426.40 203.70,425.60 204.20,424.75 204.70,423.83 205.20,422.84 205.70,421.77 206.20,420.63 206.70,419.41 207.20,418.11 207.70,416.72 208.20,415.25 208.70,413.68 209.20,412.02 209.70,410.27 210.20,408.42 210.70,406.48 211.20,404.43 211.70,402.28 212.20,400.04 212.70,397.70 213.20,395.25 213.70,392.72 214.20,390.08 214.70,387.36 215.20,384.54 215.70,381.64 216.20,378.66 216.70,375.61 217.20,372.48 217.70,369.29 218.20,366.04 218.70,362.75 219.20,359.41 219.70,356.04 220.20,352.65 220.70,349.25 221.20,345.85 221.70,342.45 222.20,339.07 222.70,335.73 223.20,332.43 223.70,329.18 224.20,326.00 224.70,322.90 225.20,319.90 225.70,316.99 226.20,314.21 226.70,311.55 227.20,309.03 227.70,306.65 228.20,304.44 228.70,302.40 229.20,300.54 229.70,298.86 230.20,297.38 230.70,296.10 231.20,295.03 231.70,294.17 232.20,293.53 232.70,293.11 233.20,292.91 233.70,292.93 234.20,293.17 234.70,293.64 235.20,294.33 235.70,295.23 236.20,296.34 236.70,297.66 237.20,299.18 237.70,300.90 238.20,302.79 238.70,304.87 239.20,307.12 239.70,309.52 240.20,312.07 240.70,314.75 241.20,317.57 241.70,320.49 242.20,323.52 242.70,326.63 243.20,329.83 243.70,333.08 244.20,336.39 244.70,339.75 245.20,343.13 245.70,346.53 246.20,349.93 246.70,353.33 247.20,356.72 247.70,360.08 248.20,363.41 248.70,366.70 249.20,369.93 249.70,373.11 250.20,376.22 250.70,379.27 251.20,382.23 251.70,385.11 252.20,387.91 252.70,390.62 253.20,393.23 253.70,395.75 254.20,398.17 254.70,400.50 255.20,402.72 255.70,404.85 256.20,406.87 256.70,408.80 257.20,410.63 257.70,412.36 258.20,414.00 258.70,415.55 259.20,417.01 259.70,418.38 260.20,419.66 260.70,420.87 261.20,421.99 261.70,423.04 262.20,424.02 262.70,424.93 263.20,425.77 263.70,426.55 264.20,427.27 264.70,427.93 265.20,428.54 265.70,429.11 266.20,429.62 266.70,430.09 267.20,430.53 267.70,430.92 268.20,431.28 268.70,431.60 269.20,431.90 269.70,432.17 270.20,432.41 270.70,432.63 271.20,432.83 271.70,433.01 272.20,433.16 272.70,433.31 273.20,433.44 273.70,433.55 274.20,433.65 274.70,433.74 275.20,433.82 275.70,433.89 276.20,433.96 276.70,434.01 277.20,434.06 277.70,434.11 278.20,434.15 278.70,434.18 279.20,434.21 279.70,434.23 280.20,434.26 280.70,434.28 281.20,434.29 281.70,434.31 282.20,434.32 282.70,434.33 283.20,434.34 283.70,434.35 284.20,434.36 284.70,434.36 285.20,434.37 285.70,434.37 286.20,434.38 286.70,434.38 287.20,434.38 287.70,434.39 288.20,434.39 288.70,434.39 289.20,434.39 289.70,434.39 290.20,434.39 290.70,434.40 291.20,434.40 291.70,434.40 292.20,434.40 292.70,434.40 293.20,434.40 293.70,434.40 294.20,434.40 294.70,434.40 295.20,434.40 295.70,434.40 296.20,434.40 296.70,434.40 297.20,434.40 297.70,434.40 298.20,434.40 298.70,434.40 299.20,434.40 299.70,434.40 300.20,434.40 300.70,434.40 301.20,434.40 301.70,434.40 302.20,434.40 302.70,434.40 303.20,434.40 303.70,434.40 304.20,434.40 304.70,434.40 305.20,434.40 305.70,434.40 306.20,434.40 306.70,434.40 307.20,434.40 307.70,434.40 308.20,434.40 308.70,434.40 309.20,434.40 309.70,434.40 310.20,434.40 310.70,434.40 311.20,434.40 311.70,434.40 312.20,434.40 312.70,434.40 313.20,434.40 313.70,434.40 314.20,434.40 314.70,434.40 315.20,434.40 315.70,434.40 316.20,434.40 316.70,434.40 317.20,434.40 317.70,434.40 318.20,434.40 318.70,434.40 319.20,434.40 319.70,434.40 320.20,434.40 320.70,434.40 321.20,434.40 321.70,434.40 322.20,434.40 322.70,434.40 323.20,434.40 323.70,434.40" fill="none" stroke="#c8282a" stroke-width="2.0" stroke-linejoin="round" stroke-linecap="round"/>
<circle cx="135.50" cy="433.00" r="1.6" fill="none" stroke="#505050" stroke-width="0.85"/>
<circle cx="140.68" cy="433.00" r="1.6" fill="none" stroke="#505050" stroke-width="0.85"/>
<circle cx="145.86" cy="433.00" r="1.6" fill="none" stroke="#505050" stroke-width="0.85"/>
<circle cx="151.04" cy="433.00" r="1.6" fill="none" stroke="#505050" stroke-width="0.85"/>
<circle cx="156.22" cy="433.00" r="1.6" fill="none" stroke="#505050" stroke-width="0.85"/>
<circle cx="161.40" cy="433.00" r="1.6" fill="none" stroke="#505050" stroke-width="0.85"/>
<circle cx="166.58" cy="433.00" r="1.6" fill="none" stroke="#505050" stroke-width="0.85"/>
<circle cx="171.76" cy="433.00" r="1.6" fill="none" stroke="#505050" stroke-width="0.85"/>
<circle cx="176.94" cy="433.00" r="1.6" fill="none" stroke="#505050" stroke-width="0.85"/>
<circle cx="182.12" cy="433.00" r="1.6" fill="none" stroke="#505050" stroke-width="0.85"/>
<circle cx="187.30" cy="432.50" r="1.6" fill="none" stroke="#505050" stroke-width="0.85"/>
<circle cx="192.48" cy="432.50" r="1.6" fill="none" stroke="#505050" stroke-width="0.85"/>
<circle cx="197.66" cy="431.90" r="1.6" fill="none" stroke="#505050" stroke-width="0.85"/>
<circle cx="202.84" cy="431.00" r="1.6" fill="none" stroke="#505050" stroke-width="0.85"/>
<circle cx="208.02" cy="430.70" r="1.6" fill="none" stroke="#505050" stroke-width="0.85"/>
<circle cx="213.20" cy="426.90" r="1.6" fill="none" stroke="#505050" stroke-width="0.85"/>
<circle cx="218.38" cy="418.60" r="1.6" fill="none" stroke="#505050" stroke-width="0.85"/>
<circle cx="223.56" cy="401.80" r="1.6" fill="none" stroke="#505050" stroke-width="0.85"/>
<circle cx="228.74" cy="373.00" r="1.6" fill="none" stroke="#505050" stroke-width="0.85"/>
<circle cx="233.92" cy="351.30" r="1.6" fill="none" stroke="#505050" stroke-width="0.85"/>
<circle cx="239.10" cy="332.20" r="1.6" fill="none" stroke="#505050" stroke-width="0.85"/>
<circle cx="244.28" cy="317.10" r="1.6" fill="none" stroke="#505050" stroke-width="0.85"/>
<circle cx="249.46" cy="300.90" r="1.6" fill="none" stroke="#505050" stroke-width="0.85"/>
<circle cx="254.64" cy="297.90" r="1.6" fill="none" stroke="#505050" stroke-width="0.85"/>
<circle cx="259.82" cy="288.10" r="1.6" fill="none" stroke="#505050" stroke-width="0.85"/>
<circle cx="265.00" cy="286.70" r="1.6" fill="none" stroke="#505050" stroke-width="0.85"/>
<circle cx="270.18" cy="281.00" r="1.6" fill="none" stroke="#505050" stroke-width="0.85"/>
<circle cx="275.36" cy="275.70" r="1.6" fill="none" stroke="#505050" stroke-width="0.85"/>
<circle cx="280.54" cy="277.40" r="1.6" fill="none" stroke="#505050" stroke-width="0.85"/>
<circle cx="285.72" cy="278.90" r="1.6" fill="none" stroke="#505050" stroke-width="0.85"/>
<circle cx="290.90" cy="279.60" r="1.6" fill="none" stroke="#505050" stroke-width="0.85"/>
<circle cx="296.08" cy="287.80" r="1.6" fill="none" stroke="#505050" stroke-width="0.85"/>
<circle cx="301.26" cy="284.00" r="1.6" fill="none" stroke="#505050" stroke-width="0.85"/>
<circle cx="306.44" cy="287.80" r="1.6" fill="none" stroke="#505050" stroke-width="0.85"/>
<circle cx="311.62" cy="287.80" r="1.6" fill="none" stroke="#505050" stroke-width="0.85"/>
<circle cx="316.80" cy="289.50" r="1.6" fill="none" stroke="#505050" stroke-width="0.85"/>
<circle cx="321.98" cy="293.10" r="1.6" fill="none" stroke="#505050" stroke-width="0.85"/>
<circle cx="148.50" cy="284.40" r="1.6" fill="none" stroke="#505050" stroke-width="0.85"/>
<text x="167.18" y="289.00" font-size="12.6" fill="#000" color="#000" textLength="68.73" lengthAdjust="spacingAndGlyphs">Experiment</text>
<line x1="133.40" y1="301.00" x2="163.70" y2="301.00" stroke="#3cdce6" stroke-width="2.0"/>
<text x="167.18" y="305.70" font-size="12.8" fill="#000" color="#000" textLength="26.43" lengthAdjust="spacingAndGlyphs">ESF</text>
<line x1="133.40" y1="317.90" x2="163.70" y2="317.90" stroke="#c8282a" stroke-width="2.0"/>
<text x="167.20" y="322.40" font-size="12.8" fill="#000" color="#000" textLength="24.42" lengthAdjust="spacingAndGlyphs">LSF</text>
<text x="132.97" y="348.60" font-size="13.2" fill="#000" color="#000" textLength="88.62" lengthAdjust="spacingAndGlyphs">FWHM 6.3 μm</text>
<line x1="173.60" y1="364.80" x2="211.20" y2="364.80" stroke="#000" stroke-width="1.2"/>
<polygon points="216.40,364.80 209.90,361.60 209.90,368.00" fill="#000"/>
<line x1="283.60" y1="365.00" x2="256.60" y2="365.00" stroke="#000" stroke-width="1.2"/>
<polygon points="251.40,365.00 257.90,361.80 257.90,368.20" fill="#000"/>
<text x="362.88" y="258.22" font-size="17.2" fill="#000" color="#000" textLength="21.89" lengthAdjust="spacingAndGlyphs" style="stroke-width:0">(e)</text>
<rect x="394.3" y="278.2" width="196.90" height="158.60" fill="none" stroke="#000" stroke-width="1.1"/>
<line x1="407.76" y1="436.80" x2="407.76" y2="439.80" stroke="#000" stroke-width="1.1"/>
<line x1="407.76" y1="278.20" x2="407.76" y2="281.20" stroke="#000" stroke-width="1.1"/>
<line x1="438.28" y1="436.80" x2="438.28" y2="439.80" stroke="#000" stroke-width="1.1"/>
<line x1="438.28" y1="278.20" x2="438.28" y2="281.20" stroke="#000" stroke-width="1.1"/>
<line x1="468.80" y1="436.80" x2="468.80" y2="439.80" stroke="#000" stroke-width="1.1"/>
<line x1="468.80" y1="278.20" x2="468.80" y2="281.20" stroke="#000" stroke-width="1.1"/>
<line x1="499.32" y1="436.80" x2="499.32" y2="439.80" stroke="#000" stroke-width="1.1"/>
<line x1="499.32" y1="278.20" x2="499.32" y2="281.20" stroke="#000" stroke-width="1.1"/>
<line x1="529.84" y1="436.80" x2="529.84" y2="439.80" stroke="#000" stroke-width="1.1"/>
<line x1="529.84" y1="278.20" x2="529.84" y2="281.20" stroke="#000" stroke-width="1.1"/>
<line x1="560.36" y1="436.80" x2="560.36" y2="439.80" stroke="#000" stroke-width="1.1"/>
<line x1="560.36" y1="278.20" x2="560.36" y2="281.20" stroke="#000" stroke-width="1.1"/>
<line x1="590.88" y1="436.80" x2="590.88" y2="439.80" stroke="#000" stroke-width="1.1"/>
<line x1="590.88" y1="278.20" x2="590.88" y2="281.20" stroke="#000" stroke-width="1.1"/>
<line x1="423.02" y1="436.80" x2="423.02" y2="438.30" stroke="#000" stroke-width="1.1"/>
<line x1="423.02" y1="278.20" x2="423.02" y2="279.70" stroke="#000" stroke-width="1.1"/>
<line x1="453.54" y1="436.80" x2="453.54" y2="438.30" stroke="#000" stroke-width="1.1"/>
<line x1="453.54" y1="278.20" x2="453.54" y2="279.70" stroke="#000" stroke-width="1.1"/>
<line x1="484.06" y1="436.80" x2="484.06" y2="438.30" stroke="#000" stroke-width="1.1"/>
<line x1="484.06" y1="278.20" x2="484.06" y2="279.70" stroke="#000" stroke-width="1.1"/>
<line x1="514.58" y1="436.80" x2="514.58" y2="438.30" stroke="#000" stroke-width="1.1"/>
<line x1="514.58" y1="278.20" x2="514.58" y2="279.70" stroke="#000" stroke-width="1.1"/>
<line x1="545.10" y1="436.80" x2="545.10" y2="438.30" stroke="#000" stroke-width="1.1"/>
<line x1="545.10" y1="278.20" x2="545.10" y2="279.70" stroke="#000" stroke-width="1.1"/>
<line x1="575.62" y1="436.80" x2="575.62" y2="438.30" stroke="#000" stroke-width="1.1"/>
<line x1="575.62" y1="278.20" x2="575.62" y2="279.70" stroke="#000" stroke-width="1.1"/>
<line x1="391.30" y1="436.80" x2="394.30" y2="436.80" stroke="#000" stroke-width="1.1"/>
<line x1="588.20" y1="436.80" x2="591.20" y2="436.80" stroke="#000" stroke-width="1.1"/>
<line x1="391.30" y1="390.15" x2="394.30" y2="390.15" stroke="#000" stroke-width="1.1"/>
<line x1="588.20" y1="390.15" x2="591.20" y2="390.15" stroke="#000" stroke-width="1.1"/>
<line x1="391.30" y1="343.51" x2="394.30" y2="343.51" stroke="#000" stroke-width="1.1"/>
<line x1="588.20" y1="343.51" x2="591.20" y2="343.51" stroke="#000" stroke-width="1.1"/>
<line x1="391.30" y1="296.86" x2="394.30" y2="296.86" stroke="#000" stroke-width="1.1"/>
<line x1="588.20" y1="296.86" x2="591.20" y2="296.86" stroke="#000" stroke-width="1.1"/>
<line x1="392.80" y1="413.48" x2="394.30" y2="413.48" stroke="#000" stroke-width="1.1"/>
<line x1="589.70" y1="413.48" x2="591.20" y2="413.48" stroke="#000" stroke-width="1.1"/>
<line x1="392.80" y1="366.83" x2="394.30" y2="366.83" stroke="#000" stroke-width="1.1"/>
<line x1="589.70" y1="366.83" x2="591.20" y2="366.83" stroke="#000" stroke-width="1.1"/>
<line x1="392.80" y1="320.18" x2="394.30" y2="320.18" stroke="#000" stroke-width="1.1"/>
<line x1="589.70" y1="320.18" x2="591.20" y2="320.18" stroke="#000" stroke-width="1.1"/>
<text x="381.72" y="441.20" font-size="13.3" fill="#000" color="#000" textLength="7.10" lengthAdjust="spacingAndGlyphs">5</text>
<text x="374.61" y="394.55" font-size="13.3" fill="#000" color="#000" textLength="14.20" lengthAdjust="spacingAndGlyphs">10</text>
<text x="374.64" y="347.91" font-size="13.3" fill="#000" color="#000" textLength="14.20" lengthAdjust="spacingAndGlyphs">15</text>
<text x="374.61" y="301.26" font-size="13.3" fill="#000" color="#000" textLength="14.20" lengthAdjust="spacingAndGlyphs">20</text>
<text x="401.98" y="452.60" font-size="13.3" fill="#000" color="#000" textLength="11.35" lengthAdjust="spacingAndGlyphs">-4</text>
<text x="432.63" y="452.60" font-size="13.3" fill="#000" color="#000" textLength="11.35" lengthAdjust="spacingAndGlyphs">-2</text>
<text x="465.26" y="452.60" font-size="13.3" fill="#000" color="#000" textLength="7.10" lengthAdjust="spacingAndGlyphs">0</text>
<text x="495.76" y="452.60" font-size="13.3" fill="#000" color="#000" textLength="7.10" lengthAdjust="spacingAndGlyphs">2</text>
<text x="526.33" y="452.60" font-size="13.3" fill="#000" color="#000" textLength="7.10" lengthAdjust="spacingAndGlyphs">4</text>
<text x="556.77" y="452.60" font-size="13.3" fill="#000" color="#000" textLength="7.10" lengthAdjust="spacingAndGlyphs">6</text>
<text x="587.34" y="452.60" font-size="13.3" fill="#000" color="#000" textLength="7.10" lengthAdjust="spacingAndGlyphs">8</text>
<text x="0" y="0" font-size="12.4" fill="#000" color="#000" textLength="134.91" lengthAdjust="spacingAndGlyphs" transform="translate(369.20 424.71) scale(1.0 1) rotate(-90)">Lateral resolution (μm)</text>
<text x="389.08" y="466.80" font-size="12.5" fill="#000" color="#000" textLength="208.22" lengthAdjust="spacingAndGlyphs">Focus position of laser beam (mm)</text>
<circle cx="395.60" cy="287.00" r="1.6" fill="none" stroke="#505050" stroke-width="0.85"/>
<circle cx="401.90" cy="360.20" r="1.6" fill="none" stroke="#505050" stroke-width="0.85"/>
<circle cx="407.90" cy="369.60" r="1.6" fill="none" stroke="#505050" stroke-width="0.85"/>
<circle cx="414.00" cy="385.90" r="1.6" fill="none" stroke="#505050" stroke-width="0.85"/>
<circle cx="420.10" cy="377.50" r="1.6" fill="none" stroke="#505050" stroke-width="0.85"/>
<circle cx="425.70" cy="392.70" r="1.6" fill="none" stroke="#505050" stroke-width="0.85"/>
<circle cx="432.10" cy="404.60" r="1.6" fill="none" stroke="#505050" stroke-width="0.85"/>
<circle cx="438.60" cy="400.30" r="1.6" fill="none" stroke="#505050" stroke-width="0.85"/>
<circle cx="444.70" cy="406.80" r="1.6" fill="none" stroke="#505050" stroke-width="0.85"/>
<circle cx="450.80" cy="408.80" r="1.6" fill="none" stroke="#505050" stroke-width="0.85"/>
<circle cx="456.80" cy="420.10" r="1.6" fill="none" stroke="#505050" stroke-width="0.85"/>
<circle cx="462.90" cy="413.40" r="1.6" fill="none" stroke="#505050" stroke-width="0.85"/>
<circle cx="469.00" cy="425.10" r="1.6" fill="none" stroke="#505050" stroke-width="0.85"/>
<circle cx="475.10" cy="422.50" r="1.6" fill="none" stroke="#505050" stroke-width="0.85"/>
<circle cx="481.20" cy="421.30" r="1.6" fill="none" stroke="#505050" stroke-width="0.85"/>
<circle cx="487.20" cy="421.70" r="1.6" fill="none" stroke="#505050" stroke-width="0.85"/>
<circle cx="493.30" cy="419.70" r="1.6" fill="none" stroke="#505050" stroke-width="0.85"/>
<circle cx="499.50" cy="409.10" r="1.6" fill="none" stroke="#505050" stroke-width="0.85"/>
<circle cx="505.80" cy="413.20" r="1.6" fill="none" stroke="#505050" stroke-width="0.85"/>
<circle cx="511.80" cy="415.60" r="1.6" fill="none" stroke="#505050" stroke-width="0.85"/>
<circle cx="517.80" cy="410.60" r="1.6" fill="none" stroke="#505050" stroke-width="0.85"/>
<circle cx="524.30" cy="392.90" r="1.6" fill="none" stroke="#505050" stroke-width="0.85"/>
<circle cx="530.30" cy="391.40" r="1.6" fill="none" stroke="#505050" stroke-width="0.85"/>
<circle cx="536.50" cy="383.20" r="1.6" fill="none" stroke="#505050" stroke-width="0.85"/>
<circle cx="542.50" cy="373.00" r="1.6" fill="none" stroke="#505050" stroke-width="0.85"/>
<circle cx="548.50" cy="347.40" r="1.6" fill="none" stroke="#505050" stroke-width="0.85"/>
<circle cx="554.60" cy="339.90" r="1.6" fill="none" stroke="#505050" stroke-width="0.85"/>
<circle cx="560.90" cy="353.10" r="1.6" fill="none" stroke="#505050" stroke-width="0.85"/>
<circle cx="566.80" cy="304.10" r="1.6" fill="none" stroke="#505050" stroke-width="0.85"/>
<circle cx="573.20" cy="295.10" r="1.6" fill="none" stroke="#505050" stroke-width="0.85"/>
<circle cx="579.30" cy="288.70" r="1.6" fill="none" stroke="#505050" stroke-width="0.85"/>
<path d="M397.30,278.20 C398.53,283.67 402.33,300.70 404.70,311.00 C407.07,321.30 409.50,331.83 411.50,340.00 C413.50,348.17 415.05,353.73 416.70,360.00 C418.35,366.27 419.83,372.52 421.40,377.60 C422.97,382.68 424.53,386.60 426.10,390.50 C427.67,394.40 429.23,397.88 430.80,401.00 C432.37,404.12 433.93,406.85 435.50,409.20 C437.07,411.55 438.43,413.13 440.20,415.10 C441.97,417.07 444.13,419.53 446.10,421.00 C448.07,422.47 450.18,423.30 452.00,423.90 C453.82,424.50 455.33,424.57 457.00,424.60 C458.67,424.63 460.28,424.37 462.00,424.10 C463.72,423.83 465.50,423.28 467.30,423.00 C469.10,422.72 470.48,422.48 472.80,422.40 C475.12,422.32 478.28,422.30 481.20,422.50 C484.12,422.70 487.33,423.27 490.30,423.60 C493.27,423.93 496.55,424.40 499.00,424.50 C501.45,424.60 502.73,424.88 505.00,424.20 C507.27,423.52 510.08,422.67 512.60,420.40 C515.12,418.13 517.60,414.73 520.10,410.60 C522.60,406.47 525.35,400.62 527.60,395.60 C529.85,390.58 531.43,386.87 533.60,380.50 C535.77,374.13 538.12,366.55 540.60,357.40 C543.08,348.25 546.12,335.67 548.50,325.60 C550.88,315.53 553.25,304.90 554.90,297.00 C556.55,289.10 557.82,281.33 558.40,278.20" fill="none" stroke="#d42a2a" stroke-width="1.9" stroke-linejoin="round" stroke-linecap="round"/>
<rect x="428.3" y="294.3" width="3.3" height="3.3" fill="none" stroke="#505050" stroke-width="0.85"/>
<text x="448.48" y="300.50" font-size="12.6" fill="#000" color="#000" textLength="68.73" lengthAdjust="spacingAndGlyphs">Experiment</text>
<line x1="415.10" y1="312.20" x2="444.90" y2="312.20" stroke="#d42a2a" stroke-width="1.9"/>
<text x="449.30" y="316.90" font-size="12.8" fill="#000" color="#000" textLength="97.66" lengthAdjust="spacingAndGlyphs">Theorical values</text>
<text x="89.51" y="508.32" font-size="17.2" fill="#000" color="#000" textLength="17.96" lengthAdjust="spacingAndGlyphs" style="stroke-width:0">(f)</text>
<rect x="130.6" y="526.6" width="199.00" height="160.10" fill="none" stroke="#606060" stroke-width="1.0"/>
<line x1="130.60" y1="686.70" x2="130.60" y2="689.70" stroke="#606060" stroke-width="1.0"/>
<line x1="130.60" y1="526.60" x2="130.60" y2="529.60" stroke="#606060" stroke-width="1.0"/>
<line x1="182.85" y1="686.70" x2="182.85" y2="689.70" stroke="#606060" stroke-width="1.0"/>
<line x1="182.85" y1="526.60" x2="182.85" y2="529.60" stroke="#606060" stroke-width="1.0"/>
<line x1="235.10" y1="686.70" x2="235.10" y2="689.70" stroke="#606060" stroke-width="1.0"/>
<line x1="235.10" y1="526.60" x2="235.10" y2="529.60" stroke="#606060" stroke-width="1.0"/>
<line x1="287.35" y1="686.70" x2="287.35" y2="689.70" stroke="#606060" stroke-width="1.0"/>
<line x1="287.35" y1="526.60" x2="287.35" y2="529.60" stroke="#606060" stroke-width="1.0"/>
<line x1="156.72" y1="686.70" x2="156.72" y2="688.20" stroke="#606060" stroke-width="1.0"/>
<line x1="156.72" y1="526.60" x2="156.72" y2="528.10" stroke="#606060" stroke-width="1.0"/>
<line x1="208.97" y1="686.70" x2="208.97" y2="688.20" stroke="#606060" stroke-width="1.0"/>
<line x1="208.97" y1="526.60" x2="208.97" y2="528.10" stroke="#606060" stroke-width="1.0"/>
<line x1="261.23" y1="686.70" x2="261.23" y2="688.20" stroke="#606060" stroke-width="1.0"/>
<line x1="261.23" y1="526.60" x2="261.23" y2="528.10" stroke="#606060" stroke-width="1.0"/>
<line x1="313.48" y1="686.70" x2="313.48" y2="688.20" stroke="#606060" stroke-width="1.0"/>
<line x1="313.48" y1="526.60" x2="313.48" y2="528.10" stroke="#606060" stroke-width="1.0"/>
<line x1="127.60" y1="686.70" x2="130.60" y2="686.70" stroke="#606060" stroke-width="1.0"/>
<line x1="326.60" y1="686.70" x2="329.60" y2="686.70" stroke="#606060" stroke-width="1.0"/>
<line x1="127.60" y1="654.68" x2="130.60" y2="654.68" stroke="#606060" stroke-width="1.0"/>
<line x1="326.60" y1="654.68" x2="329.60" y2="654.68" stroke="#606060" stroke-width="1.0"/>
<line x1="127.60" y1="622.66" x2="130.60" y2="622.66" stroke="#606060" stroke-width="1.0"/>
<line x1="326.60" y1="622.66" x2="329.60" y2="622.66" stroke="#606060" stroke-width="1.0"/>
<line x1="127.60" y1="590.64" x2="130.60" y2="590.64" stroke="#606060" stroke-width="1.0"/>
<line x1="326.60" y1="590.64" x2="329.60" y2="590.64" stroke="#606060" stroke-width="1.0"/>
<line x1="127.60" y1="558.62" x2="130.60" y2="558.62" stroke="#606060" stroke-width="1.0"/>
<line x1="326.60" y1="558.62" x2="329.60" y2="558.62" stroke="#606060" stroke-width="1.0"/>
<line x1="127.60" y1="526.60" x2="130.60" y2="526.60" stroke="#606060" stroke-width="1.0"/>
<line x1="326.60" y1="526.60" x2="329.60" y2="526.60" stroke="#606060" stroke-width="1.0"/>
<line x1="129.10" y1="670.69" x2="130.60" y2="670.69" stroke="#606060" stroke-width="1.0"/>
<line x1="328.10" y1="670.69" x2="329.60" y2="670.69" stroke="#606060" stroke-width="1.0"/>
<line x1="129.10" y1="638.67" x2="130.60" y2="638.67" stroke="#606060" stroke-width="1.0"/>
<line x1="328.10" y1="638.67" x2="329.60" y2="638.67" stroke="#606060" stroke-width="1.0"/>
<line x1="129.10" y1="606.65" x2="130.60" y2="606.65" stroke="#606060" stroke-width="1.0"/>
<line x1="328.10" y1="606.65" x2="329.60" y2="606.65" stroke="#606060" stroke-width="1.0"/>
<line x1="129.10" y1="574.63" x2="130.60" y2="574.63" stroke="#606060" stroke-width="1.0"/>
<line x1="328.10" y1="574.63" x2="329.60" y2="574.63" stroke="#606060" stroke-width="1.0"/>
<line x1="129.10" y1="542.61" x2="130.60" y2="542.61" stroke="#606060" stroke-width="1.0"/>
<line x1="328.10" y1="542.61" x2="329.60" y2="542.61" stroke="#606060" stroke-width="1.0"/>
<text x="107.33" y="691.10" font-size="13.3" fill="#000" color="#000" textLength="17.75" lengthAdjust="spacingAndGlyphs">0.0</text>
<text x="107.46" y="659.08" font-size="13.3" fill="#000" color="#000" textLength="17.75" lengthAdjust="spacingAndGlyphs">0.2</text>
<text x="107.20" y="627.06" font-size="13.3" fill="#000" color="#000" textLength="17.75" lengthAdjust="spacingAndGlyphs">0.4</text>
<text x="107.40" y="595.04" font-size="13.3" fill="#000" color="#000" textLength="17.75" lengthAdjust="spacingAndGlyphs">0.6</text>
<text x="107.40" y="563.02" font-size="13.3" fill="#000" color="#000" textLength="17.75" lengthAdjust="spacingAndGlyphs">0.8</text>
<text x="107.33" y="531.00" font-size="13.3" fill="#000" color="#000" textLength="17.75" lengthAdjust="spacingAndGlyphs">1.0</text>
<text x="127.06" y="702.50" font-size="13.3" fill="#000" color="#000" textLength="7.10" lengthAdjust="spacingAndGlyphs">0</text>
<text x="171.97" y="702.50" font-size="13.3" fill="#000" color="#000" textLength="21.30" lengthAdjust="spacingAndGlyphs">100</text>
<text x="224.37" y="702.50" font-size="13.3" fill="#000" color="#000" textLength="21.30" lengthAdjust="spacingAndGlyphs">200</text>
<text x="276.70" y="702.50" font-size="13.3" fill="#000" color="#000" textLength="21.30" lengthAdjust="spacingAndGlyphs">300</text>
<text x="0" y="0" font-size="11.7" fill="#000" color="#000" textLength="121.54" lengthAdjust="spacingAndGlyphs" transform="translate(96.40 661.24) scale(1.0 1) rotate(-90)">Norm. PA amplitude</text>
<text x="195.57" y="718.80" font-size="12.5" fill="#000" color="#000" textLength="69.08" lengthAdjust="spacingAndGlyphs">Depth (μm)</text>
<path d="M132.30,615.90 C132.82,615.38 134.53,613.95 135.40,612.80 C136.27,611.65 136.68,609.58 137.50,609.00 C138.32,608.42 139.12,608.62 140.30,609.30 C141.48,609.98 143.07,613.08 144.60,613.10 C146.13,613.12 148.17,609.95 149.50,609.40 C150.83,608.85 151.67,609.38 152.60,609.80 C153.53,610.22 154.17,611.67 155.10,611.90 C156.03,612.13 157.38,611.27 158.20,611.20 C159.02,611.13 159.18,611.72 160.00,611.50 C160.82,611.28 161.87,609.48 163.10,609.90 C164.33,610.32 165.87,613.05 167.40,614.00 C168.93,614.95 170.67,615.18 172.30,615.60 C173.93,616.02 175.55,616.77 177.20,616.50 C178.85,616.23 180.55,614.62 182.20,614.00 C183.85,613.38 185.57,612.60 187.10,612.80 C188.63,613.00 190.07,615.00 191.40,615.20 C192.73,615.40 193.87,614.82 195.10,614.00 C196.33,613.18 197.67,611.02 198.80,610.30 C199.93,609.58 200.80,608.67 201.90,609.70 C203.00,610.73 204.17,613.53 205.40,616.50 C206.63,619.47 208.13,623.85 209.30,627.50 C210.47,631.15 211.45,638.82 212.40,638.40 C213.35,637.98 214.23,631.73 215.00,625.00 C215.77,618.27 216.37,607.83 217.00,598.00 C217.63,588.17 218.17,575.17 218.80,566.00 C219.43,556.83 220.25,547.83 220.80,543.00 C221.35,538.17 221.60,534.83 222.10,537.00 C222.60,539.17 223.28,547.17 223.80,556.00 C224.32,564.83 224.68,575.85 225.20,590.00 C225.72,604.15 226.20,624.88 226.90,640.90 C227.60,656.92 228.53,685.00 229.40,686.10 C230.27,687.20 231.20,660.50 232.10,647.50 C233.00,634.50 233.88,617.18 234.80,608.10 C235.72,599.02 236.85,593.87 237.60,593.00 C238.35,592.13 238.57,598.85 239.30,602.90 C240.03,606.95 241.12,615.78 242.00,617.30 C242.88,618.82 243.73,613.75 244.60,612.00 C245.47,610.25 246.33,608.00 247.20,606.80 C248.07,605.60 248.92,603.93 249.80,604.80 C250.68,605.67 251.62,609.37 252.50,612.00 C253.38,614.63 254.12,619.93 255.10,620.60 C256.08,621.27 257.32,617.65 258.40,616.00 C259.48,614.35 260.40,611.80 261.60,610.70 C262.80,609.60 264.07,609.28 265.60,609.40 C267.13,609.52 269.17,611.17 270.80,611.40 C272.43,611.63 273.95,610.22 275.40,610.80 C276.85,611.38 278.22,613.67 279.50,614.90 C280.78,616.13 281.98,618.12 283.10,618.20 C284.22,618.28 285.27,616.90 286.20,615.40 C287.13,613.90 287.77,610.05 288.70,609.20 C289.63,608.35 290.77,609.35 291.80,610.30 C292.83,611.25 293.78,613.37 294.90,614.90 C296.02,616.43 297.38,619.50 298.50,619.50 C299.62,619.50 300.50,616.78 301.60,614.90 C302.70,613.02 304.33,609.53 305.10,608.20 C305.87,606.87 305.33,606.30 306.20,606.90 C307.07,607.50 308.93,610.30 310.30,611.80 C311.67,613.30 313.20,615.30 314.40,615.90 C315.60,616.50 316.48,616.00 317.50,615.40 C318.52,614.80 320.00,612.82 320.50,612.30" fill="none" stroke="#444" stroke-width="0.8" stroke-linejoin="round" stroke-linecap="round"/>
<path d="M132.30,611.50 C132.72,611.10 133.88,609.65 134.80,609.10 C135.72,608.55 136.88,608.20 137.80,608.20 C138.72,608.20 139.17,608.28 140.30,609.10 C141.43,609.92 143.07,613.07 144.60,613.10 C146.13,613.13 148.17,609.87 149.50,609.30 C150.83,608.73 151.67,609.27 152.60,609.70 C153.53,610.13 154.17,611.65 155.10,611.90 C156.03,612.15 157.38,611.27 158.20,611.20 C159.02,611.13 159.18,611.75 160.00,611.50 C160.82,611.25 161.87,609.90 163.10,609.70 C164.33,609.50 165.87,610.00 167.40,610.30 C168.93,610.60 170.67,611.18 172.30,611.50 C173.93,611.82 175.55,611.98 177.20,612.20 C178.85,612.42 180.55,612.60 182.20,612.80 C183.85,613.00 185.67,613.27 187.10,613.40 C188.53,613.53 189.47,613.92 190.80,613.60 C192.13,613.28 193.87,612.05 195.10,611.50 C196.33,610.95 197.07,610.80 198.20,610.30 C199.33,609.80 200.67,609.32 201.90,608.50 C203.13,607.68 204.48,606.95 205.60,605.40 C206.72,603.85 207.67,601.77 208.60,599.20 C209.53,596.63 210.33,594.00 211.20,590.00 C212.07,586.00 212.72,580.78 213.80,575.20 C214.88,569.62 216.50,562.93 217.70,556.50 C218.90,550.07 220.07,541.18 221.00,536.60 C221.93,532.02 222.60,530.57 223.30,529.00 C224.00,527.43 224.53,527.12 225.20,527.20 C225.87,527.28 226.62,527.93 227.30,529.50 C227.98,531.07 228.52,532.67 229.30,536.60 C230.08,540.53 230.98,546.67 232.00,553.10 C233.02,559.53 234.37,568.55 235.40,575.20 C236.43,581.85 237.32,587.73 238.20,593.00 C239.08,598.27 239.85,604.38 240.70,606.80 C241.55,609.22 242.22,607.93 243.30,607.50 C244.38,607.07 246.00,604.87 247.20,604.20 C248.40,603.53 249.18,602.95 250.50,603.50 C251.82,604.05 253.47,606.52 255.10,607.50 C256.73,608.48 258.55,608.65 260.30,609.40 C262.05,610.15 263.93,611.47 265.60,612.00 C267.27,612.53 268.83,612.88 270.30,612.60 C271.77,612.32 272.70,610.63 274.40,610.30 C276.10,609.97 278.80,610.68 280.50,610.60 C282.20,610.52 283.40,610.15 284.60,609.80 C285.80,609.45 286.67,608.60 287.70,608.50 C288.73,608.40 289.43,608.95 290.80,609.20 C292.17,609.45 294.53,610.17 295.90,610.00 C297.27,609.83 297.80,608.67 299.00,608.20 C300.20,607.73 301.90,607.48 303.10,607.20 C304.30,606.92 305.18,606.25 306.20,606.50 C307.22,606.75 308.02,607.90 309.20,608.70 C310.38,609.50 312.10,610.65 313.30,611.30 C314.50,611.95 315.45,612.72 316.40,612.60 C317.35,612.48 318.32,610.65 319.00,610.60 C319.68,610.55 320.25,612.02 320.50,612.30" fill="none" stroke="#d83a3a" stroke-width="2.0" stroke-linejoin="round" stroke-linecap="round"/>
<text x="134.58" y="560.90" font-size="11.5" fill="#000" color="#000" textLength="76.31" lengthAdjust="spacingAndGlyphs">FWHM 36 μm</text>
<line x1="172.10" y1="570.00" x2="206.40" y2="570.00" stroke="#000" stroke-width="1.2"/>
<polygon points="211.60,570.00 205.10,566.80 205.10,573.20" fill="#000"/>
<line x1="270.80" y1="570.00" x2="242.80" y2="570.00" stroke="#000" stroke-width="1.2"/>
<polygon points="237.60,570.00 244.10,566.80 244.10,573.20" fill="#000"/>
<rect x="248.4" y="530.4" width="74.1" height="27.3" fill="#fff" stroke="#8a8a8a" stroke-width="0.8"/>
<line x1="250.10" y1="537.30" x2="273.10" y2="537.30" stroke="#444" stroke-width="0.9"/>
<line x1="250.10" y1="550.50" x2="273.10" y2="550.50" stroke="#d83a3a" stroke-width="1.8"/>
<text x="275.91" y="540.80" font-size="10.8" fill="#000" color="#000" textLength="45.61" lengthAdjust="spacingAndGlyphs">RF signal</text>
<text x="275.92" y="553.80" font-size="10.8" fill="#000" color="#000" textLength="44.43" lengthAdjust="spacingAndGlyphs">Envelope</text>
<text x="362.87" y="508.12" font-size="17.2" fill="#000" color="#000" textLength="22.11" lengthAdjust="spacingAndGlyphs" style="stroke-width:0">(g)</text>
<rect x="388" y="528" width="210" height="184.6" fill="#000"/>
<defs><linearGradient id="gBr" x1="388" y1="0" x2="563" y2="0" gradientUnits="userSpaceOnUse">
<stop offset="0" stop-color="#ff9820"/><stop offset="0.3" stop-color="#ff8a18"/><stop offset="0.55" stop-color="#f06010"/><stop offset="0.8" stop-color="#c82808"/><stop offset="1" stop-color="#701000"/></linearGradient>
<linearGradient id="gCore" x1="388" y1="0" x2="563" y2="0" gradientUnits="userSpaceOnUse">
<stop offset="0" stop-color="#ffec90"/><stop offset="0.3" stop-color="#ffd850"/><stop offset="0.55" stop-color="#ffa030"/><stop offset="0.8" stop-color="#e84818"/><stop offset="1" stop-color="#801000"/></linearGradient>
<filter id="blur1" x="-20%" y="-20%" width="140%" height="140%"><feGaussianBlur stdDeviation="0.6"/></filter>
<filter id="blur2" x="-50%" y="-50%" width="200%" height="200%"><feGaussianBlur stdDeviation="0.7"/></filter></defs>
<polygon points="387.82,559.85 390.72,560.89 393.62,561.95 396.52,563.02 399.42,564.12 402.32,565.23 405.22,566.37 408.12,567.53 411.02,568.70 413.92,569.90 416.82,571.11 419.72,572.35 422.62,573.60 425.52,574.88 428.42,576.17 431.33,577.49 434.23,578.82 437.13,580.17 440.03,581.55 442.94,582.94 445.84,584.36 448.74,585.79 451.65,587.24 454.55,588.72 457.45,590.21 460.36,591.72 463.26,593.26 466.17,594.81 469.07,596.38 471.98,597.98 474.88,599.59 477.79,601.22 480.70,602.87 483.60,604.55 486.51,606.24 489.41,607.95 492.32,609.68 495.23,611.44 498.13,613.21 501.04,615.00 503.95,616.81 506.86,618.64 509.76,620.50 512.67,622.37 515.58,624.26 518.49,626.17 521.40,628.10 524.31,630.05 527.21,632.02 530.12,634.01 533.03,636.03 535.94,638.06 538.85,640.11 541.76,642.18 544.67,644.27 547.58,646.38 550.49,648.51 553.40,650.66 556.31,652.83 559.22,655.02 562.13,657.23 562.87,656.28 559.97,654.04 557.08,651.81 554.19,649.61 551.30,647.43 548.40,645.26 545.51,643.12 542.61,641.00 539.72,638.89 536.83,636.81 533.93,634.74 531.04,632.70 528.15,630.67 525.25,628.67 522.36,626.68 519.46,624.71 516.57,622.77 513.67,620.84 510.78,618.93 507.88,617.05 504.98,615.18 502.09,613.33 499.19,611.50 496.30,609.69 493.40,607.91 490.50,606.14 487.61,604.39 484.71,602.66 481.81,600.95 478.91,599.26 476.02,597.59 473.12,595.94 470.22,594.31 467.32,592.69 464.42,591.10 461.52,589.53 458.63,587.98 455.73,586.45 452.83,584.93 449.93,583.44 447.03,581.97 444.13,580.52 441.23,579.08 438.33,577.67 435.43,576.27 432.52,574.90 429.62,573.54 426.72,572.21 423.82,570.89 420.92,569.60 418.01,568.32 415.11,567.07 412.21,565.83 409.31,564.62 406.40,563.42 403.50,562.24 400.60,561.09 397.69,559.95 394.79,558.83 391.88,557.73 388.98,556.65" fill="url(#gBr)" filter="url(#blur1)"/>
<polygon points="388.09,559.10 390.54,559.98 392.98,560.87 395.42,561.78 397.87,562.70 400.31,563.63 402.75,564.58 405.19,565.54 407.64,566.52 410.08,567.51 412.52,568.51 414.97,569.53 417.41,570.56 419.86,571.61 422.30,572.67 424.74,573.75 427.19,574.84 429.63,575.94 432.08,577.06 434.52,578.19 436.97,579.33 439.41,580.49 441.86,581.67 444.30,582.85 446.75,584.06 449.19,585.27 451.64,586.50 454.08,587.74 456.53,589.00 458.97,590.27 461.42,591.56 463.86,592.86 466.31,594.18 468.76,595.50 471.20,596.85 473.65,598.20 476.09,599.57 478.54,600.96 480.99,602.36 483.43,603.77 485.88,605.20 488.33,606.64 490.77,608.09 493.22,609.56 495.67,611.05 498.11,612.54 500.56,614.06 503.01,615.58 505.45,617.12 507.90,618.67 510.35,620.24 512.80,621.82 515.24,623.42 517.69,625.03 520.14,626.66 522.59,628.29 525.03,629.95 527.48,631.61 529.93,633.29 532.38,634.99 534.83,636.70 535.17,636.21 532.73,634.48 530.30,632.77 527.86,631.07 525.42,629.38 522.98,627.71 520.54,626.06 518.10,624.42 515.66,622.79 513.22,621.17 510.78,619.57 508.34,617.98 505.91,616.41 503.47,614.85 501.03,613.31 498.59,611.78 496.15,610.26 493.71,608.76 491.27,607.27 488.83,605.80 486.39,604.34 483.95,602.89 481.51,601.46 479.07,600.04 476.63,598.63 474.19,597.24 471.75,595.87 469.30,594.51 466.86,593.16 464.42,591.82 461.98,590.50 459.54,589.20 457.10,587.90 454.66,586.62 452.22,585.36 449.78,584.11 447.33,582.87 444.89,581.65 442.45,580.44 440.01,579.25 437.57,578.07 435.13,576.90 432.68,575.75 430.24,574.61 427.80,573.49 425.36,572.38 422.91,571.28 420.47,570.20 418.03,569.13 415.59,568.08 413.14,567.04 410.70,566.01 408.26,565.00 405.81,564.00 403.37,563.02 400.93,562.05 398.48,561.09 396.04,560.15 393.59,559.22 391.15,558.31 388.71,557.41" fill="url(#gCore)"/>
<circle cx="497" cy="611.3269751300002" r="0.9" fill="#ffd040" opacity="0.8"/>
<circle cx="503" cy="615.06820313" r="0.9" fill="#ffd040" opacity="0.8"/>
<circle cx="515" cy="622.8047982500001" r="0.9" fill="#ffd040" opacity="0.8"/>
<circle cx="521" cy="626.8001653700001" r="0.9" fill="#ffd040" opacity="0.8"/>
<circle cx="528" cy="631.5684948800001" r="0.9" fill="#ffd040" opacity="0.8"/>
<circle cx="401.4" cy="548.9" r="1.8" fill="#e8301a" opacity="0.9" filter="url(#blur2)"/>
<circle cx="413.7" cy="560.2" r="1.3" fill="#e8301a" opacity="0.5" filter="url(#blur2)"/>
<circle cx="428.8" cy="553" r="1.2" fill="#e8301a" opacity="0.35" filter="url(#blur2)"/>
<circle cx="431.5" cy="561.9" r="1.6" fill="#e8301a" opacity="0.6" filter="url(#blur2)"/>
<circle cx="454.1" cy="568.7" r="1.8" fill="#e8301a" opacity="0.85" filter="url(#blur2)"/>
<circle cx="456.1" cy="577.6" r="1.2" fill="#e8301a" opacity="0.4" filter="url(#blur2)"/>
<circle cx="469.1" cy="569.4" r="1.8" fill="#e8301a" opacity="0.85" filter="url(#blur2)"/>
<circle cx="470.5" cy="564.6" r="1.5" fill="#e8301a" opacity="0.6" filter="url(#blur2)"/>
<circle cx="476" cy="561.9" r="1.5" fill="#e8301a" opacity="0.7" filter="url(#blur2)"/>
<circle cx="464.3" cy="563.3" r="1.2" fill="#e8301a" opacity="0.4" filter="url(#blur2)"/>
<circle cx="481" cy="562.5" r="1.3" fill="#e8301a" opacity="0.6" filter="url(#blur2)"/>
<circle cx="487" cy="561" r="1.2" fill="#e8301a" opacity="0.5" filter="url(#blur2)"/>
<circle cx="495.5" cy="563.4" r="1.5" fill="#e8301a" opacity="0.6" filter="url(#blur2)"/>
<circle cx="505" cy="564" r="1.2" fill="#e8301a" opacity="0.45" filter="url(#blur2)"/>
<circle cx="522" cy="565.5" r="1.2" fill="#e8301a" opacity="0.4" filter="url(#blur2)"/>
<circle cx="537" cy="566.5" r="1.2" fill="#e8301a" opacity="0.45" filter="url(#blur2)"/>
<circle cx="550.2" cy="568.6" r="1.5" fill="#e8301a" opacity="0.6" filter="url(#blur2)"/>
<circle cx="575.9" cy="572" r="1.6" fill="#e8301a" opacity="0.6" filter="url(#blur2)"/>
<circle cx="590" cy="572.5" r="1.3" fill="#e8301a" opacity="0.45" filter="url(#blur2)"/>
<circle cx="445" cy="566" r="1.0" fill="#e8301a" opacity="0.35" filter="url(#blur2)"/>
<circle cx="420" cy="556" r="1.0" fill="#e8301a" opacity="0.3" filter="url(#blur2)"/>
<path d="M392.50,553.00 C396.15,553.38 407.32,554.42 414.40,555.30 C421.48,556.18 429.73,557.42 435.00,558.30 C440.27,559.18 442.93,560.03 446.00,560.60 C449.07,561.17 451.23,561.62 453.40,561.70 C455.57,561.78 456.90,561.48 459.00,561.10 C461.10,560.72 463.63,559.85 466.00,559.40 C468.37,558.95 469.53,558.57 473.20,558.40 C476.87,558.23 483.10,558.13 488.00,558.40 C492.90,558.67 497.70,559.30 502.60,560.00 C507.50,560.70 511.50,561.78 517.40,562.60 C523.30,563.42 530.25,564.20 538.00,564.90 C545.75,565.60 553.93,566.05 563.90,566.80 C573.87,567.55 592.15,568.97 597.80,569.40" fill="none" stroke="#e4e04c" stroke-width="1.9" stroke-dasharray="4.3 1.9"/>
<line x1="564.20" y1="574.00" x2="564.20" y2="649.00" stroke="#fff" stroke-width="1.9"/>
<polygon points="564.2,567.8 559.3,577.8 564.2,575.3 569.1,577.8" fill="#fff"/>
<polygon points="564.2,655.2 559.3,645.2 564.2,647.7 569.1,645.2" fill="#fff"/>
<text x="475.51" y="593.40" font-size="12.5" fill="#fff" color="#fff" textLength="86.30" lengthAdjust="spacingAndGlyphs">0.97 mm depth</text>
<text x="392.34" y="696.80" font-size="12.5" fill="#fff" color="#fff" textLength="44.02" lengthAdjust="spacingAndGlyphs">200 μm</text>
<line x1="403.20" y1="703.20" x2="421.90" y2="703.20" stroke="#fff" stroke-width="1.6"/>
<polyline points="585.00,677.60 561.70,677.60 561.70,700.50" fill="none" stroke="#fff" stroke-width="1.6" stroke-linejoin="round" stroke-linecap="round" stroke-linecap="butt"/>
<polygon points="586.3,677.6 577.3,673.2 579.6,677.6 577.3,682.0" fill="#fff"/>
<polygon points="561.7,702.2 557.3,693.2 561.7,695.5 566.1,693.2" fill="#fff"/>
<text x="588.75" y="682.60" font-size="11.5" fill="#fff" color="#fff" textLength="6.07" lengthAdjust="spacingAndGlyphs">x</text>
<text x="558.65" y="712.00" font-size="11.5" fill="#fff" color="#fff" textLength="6.83" lengthAdjust="spacingAndGlyphs">z</text>
</svg></body></html>
